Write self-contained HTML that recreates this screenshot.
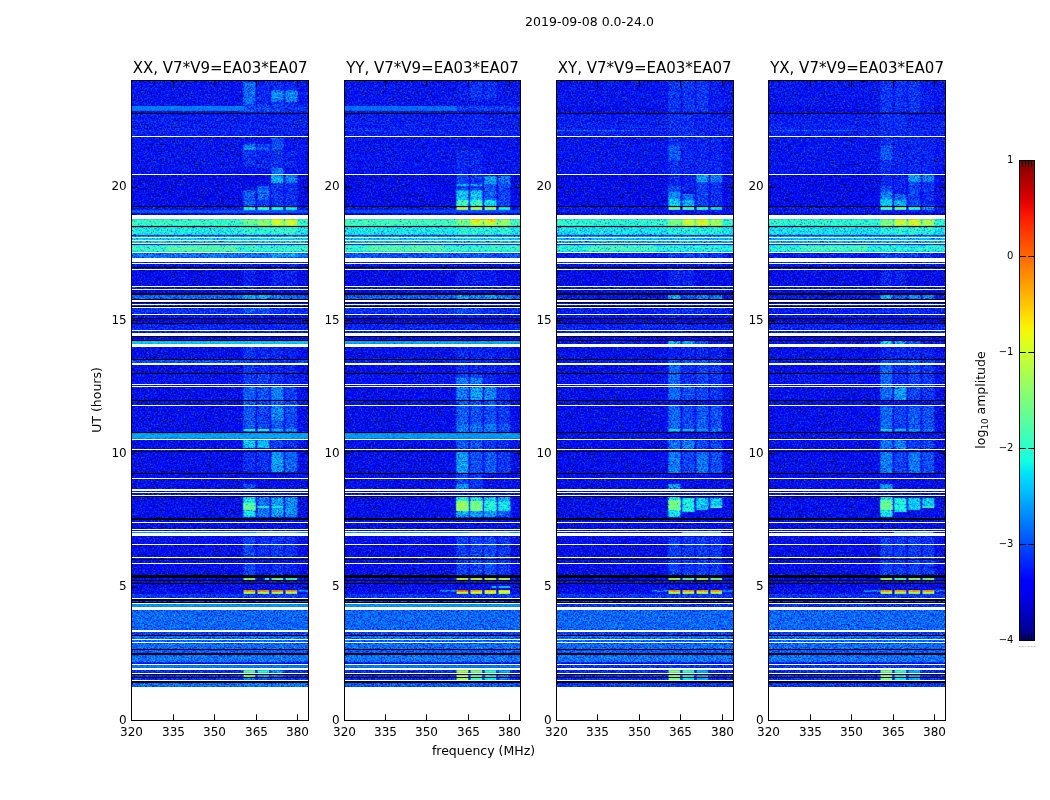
<!DOCTYPE html>
<html><head><meta charset="utf-8"><title>2019-09-08 0.0-24.0</title>
<style>
html,body{margin:0;padding:0;background:#fff;width:1050px;height:800px;overflow:hidden}
svg text{font-family:"DejaVu Sans","Liberation Sans",sans-serif;fill:#000}
.tk{font-size:12px}.tt{font-size:15px}.lb{font-size:12.5px}.ct{font-size:10px}
</style></head><body>
<svg width="1050" height="800" viewBox="0 0 1050 800" style="display:block;position:absolute;left:0;top:0">
<defs>
<filter id="jn" x="0" y="0" width="100%" height="100%" color-interpolation-filters="sRGB">
<feTurbulence type="fractalNoise" baseFrequency="0.7" numOctaves="2" seed="7" result="t"/>
<feColorMatrix in="t" type="matrix" values="1 0 0 0 0  1 0 0 0 0  1 0 0 0 0  0 0 0 0 1" result="g"/>
<feComponentTransfer in="g" result="n"><feFuncR type="table" tableValues="0.000 0.000 0.000 0.000 0.000 0.000 0.000 0.000 0.000 0.000 0.000 0.000 0.000 0.000 0.050 0.100 0.148 0.192 0.232 0.268 0.299 0.329 0.355 0.380 0.402 0.424 0.444 0.464 0.483 0.502 0.520 0.537 0.555 0.575 0.591 0.606 0.620 0.634 0.647 0.659 0.671 0.683 0.694 0.706 0.717 0.728 0.740 0.751 0.763 0.773 0.784 0.795 0.805 0.815 0.825 0.835 0.843 0.843 0.843 0.843 0.843 0.843 0.843 0.843 0.843"/><feFuncG type="table" tableValues="0.000 0.000 0.000 0.000 0.000 0.000 0.000 0.000 0.000 0.000 0.000 0.000 0.000 0.000 0.050 0.100 0.148 0.192 0.232 0.268 0.299 0.329 0.355 0.380 0.402 0.424 0.444 0.464 0.483 0.502 0.520 0.537 0.555 0.575 0.591 0.606 0.620 0.634 0.647 0.659 0.671 0.683 0.694 0.706 0.717 0.728 0.740 0.751 0.763 0.773 0.784 0.795 0.805 0.815 0.825 0.835 0.843 0.843 0.843 0.843 0.843 0.843 0.843 0.843 0.843"/><feFuncB type="table" tableValues="0.000 0.000 0.000 0.000 0.000 0.000 0.000 0.000 0.000 0.000 0.000 0.000 0.000 0.000 0.050 0.100 0.148 0.192 0.232 0.268 0.299 0.329 0.355 0.380 0.402 0.424 0.444 0.464 0.483 0.502 0.520 0.537 0.555 0.575 0.591 0.606 0.620 0.634 0.647 0.659 0.671 0.683 0.694 0.706 0.717 0.728 0.740 0.751 0.763 0.773 0.784 0.795 0.805 0.815 0.825 0.835 0.843 0.843 0.843 0.843 0.843 0.843 0.843 0.843 0.843"/></feComponentTransfer>
<feComposite in="SourceGraphic" in2="n" operator="arithmetic" k1="0" k2="1" k3="0.4050" k4="-0.2250" result="s"/>
<feComponentTransfer in="s" result="c"><feFuncR type="table" tableValues="0.000 0.000 0.000 0.000 0.000 0.000 0.000 0.000 0.000 0.000 0.000 0.000 0.000 0.000 0.000 0.000 0.000 0.000 0.000 0.000 0.000 0.000 0.000 0.000 0.000 0.000 0.000 0.000 0.000 0.000 0.000 0.000 0.000 0.000 0.000 0.000 0.000 0.000 0.000 0.000 0.000 0.000 0.000 0.000 0.000 0.000 0.011 0.044 0.077 0.109 0.142 0.174 0.207 0.239 0.272 0.305 0.337 0.370 0.402 0.435 0.468 0.500 0.533 0.565 0.598 0.630 0.663 0.696 0.728 0.761 0.793 0.826 0.859 0.891 0.924 0.956 0.989 1.000 1.000 1.000 1.000 1.000 1.000 1.000 1.000 1.000 1.000 1.000 1.000 1.000 1.000 1.000 1.000 1.000 1.000 1.000 1.000 1.000 1.000 1.000 0.959 0.913 0.867 0.821 0.775 0.730 0.684 0.638 0.592 0.546 0.500"/><feFuncG type="table" tableValues="0.000 0.000 0.000 0.000 0.000 0.000 0.000 0.000 0.000 0.000 0.000 0.000 0.000 0.000 0.000 0.000 0.000 0.000 0.000 0.000 0.000 0.000 0.000 0.000 0.025 0.066 0.106 0.146 0.187 0.227 0.268 0.308 0.348 0.389 0.429 0.470 0.510 0.551 0.591 0.631 0.672 0.712 0.753 0.793 0.833 0.874 0.914 0.955 0.995 1.000 1.000 1.000 1.000 1.000 1.000 1.000 1.000 1.000 1.000 1.000 1.000 1.000 1.000 1.000 1.000 1.000 1.000 1.000 1.000 1.000 1.000 1.000 1.000 1.000 1.000 0.976 0.939 0.901 0.864 0.826 0.789 0.752 0.714 0.677 0.639 0.602 0.565 0.527 0.490 0.452 0.415 0.377 0.340 0.303 0.265 0.228 0.190 0.153 0.116 0.078 0.041 0.003 0.000 0.000 0.000 0.000 0.000 0.000 0.000 0.000 0.000"/><feFuncB type="table" tableValues="0.000 0.000 0.000 0.000 0.000 0.000 0.000 0.000 0.000 0.000 0.000 0.500 0.546 0.592 0.638 0.684 0.730 0.775 0.821 0.867 0.913 0.959 1.000 1.000 1.000 1.000 1.000 1.000 1.000 1.000 1.000 1.000 1.000 1.000 1.000 1.000 1.000 1.000 1.000 1.000 1.000 1.000 1.000 1.000 1.000 0.989 0.956 0.924 0.891 0.859 0.826 0.793 0.761 0.728 0.696 0.663 0.630 0.598 0.565 0.533 0.500 0.468 0.435 0.402 0.370 0.337 0.305 0.272 0.239 0.207 0.174 0.142 0.109 0.077 0.044 0.011 0.000 0.000 0.000 0.000 0.000 0.000 0.000 0.000 0.000 0.000 0.000 0.000 0.000 0.000 0.000 0.000 0.000 0.000 0.000 0.000 0.000 0.000 0.000 0.000 0.000 0.000 0.000 0.000 0.000 0.000 0.000 0.000 0.000 0.000 0.000"/></feComponentTransfer>
<feConvolveMatrix in="c" order="3" kernelMatrix="0.02 0.08 0.02 0.08 0.6 0.08 0.02 0.08 0.02" divisor="1" edgeMode="duplicate" preserveAlpha="true" result="b"/>
<feComposite in="b" in2="SourceGraphic" operator="in"/>
</filter>
<filter id="jl" x="0" y="0" width="100%" height="100%" color-interpolation-filters="sRGB">
<feTurbulence type="fractalNoise" baseFrequency="0.7" numOctaves="2" seed="11" result="t"/>
<feColorMatrix in="t" type="matrix" values="1 0 0 0 0  1 0 0 0 0  1 0 0 0 0  0 0 0 0 1" result="g"/>
<feComponentTransfer in="g" result="n"><feFuncR type="table" tableValues="0.000 0.000 0.000 0.000 0.000 0.000 0.000 0.000 0.000 0.000 0.000 0.000 0.000 0.000 0.050 0.100 0.148 0.192 0.232 0.268 0.299 0.329 0.355 0.380 0.402 0.424 0.444 0.464 0.483 0.502 0.520 0.537 0.555 0.575 0.591 0.606 0.620 0.634 0.647 0.659 0.671 0.683 0.694 0.706 0.717 0.728 0.740 0.751 0.763 0.773 0.784 0.795 0.805 0.815 0.825 0.835 0.843 0.843 0.843 0.843 0.843 0.843 0.843 0.843 0.843"/><feFuncG type="table" tableValues="0.000 0.000 0.000 0.000 0.000 0.000 0.000 0.000 0.000 0.000 0.000 0.000 0.000 0.000 0.050 0.100 0.148 0.192 0.232 0.268 0.299 0.329 0.355 0.380 0.402 0.424 0.444 0.464 0.483 0.502 0.520 0.537 0.555 0.575 0.591 0.606 0.620 0.634 0.647 0.659 0.671 0.683 0.694 0.706 0.717 0.728 0.740 0.751 0.763 0.773 0.784 0.795 0.805 0.815 0.825 0.835 0.843 0.843 0.843 0.843 0.843 0.843 0.843 0.843 0.843"/><feFuncB type="table" tableValues="0.000 0.000 0.000 0.000 0.000 0.000 0.000 0.000 0.000 0.000 0.000 0.000 0.000 0.000 0.050 0.100 0.148 0.192 0.232 0.268 0.299 0.329 0.355 0.380 0.402 0.424 0.444 0.464 0.483 0.502 0.520 0.537 0.555 0.575 0.591 0.606 0.620 0.634 0.647 0.659 0.671 0.683 0.694 0.706 0.717 0.728 0.740 0.751 0.763 0.773 0.784 0.795 0.805 0.815 0.825 0.835 0.843 0.843 0.843 0.843 0.843 0.843 0.843 0.843 0.843"/></feComponentTransfer>
<feComposite in="SourceGraphic" in2="n" operator="arithmetic" k1="0" k2="1" k3="0.1418" k4="-0.0788" result="s"/>
<feComponentTransfer in="s" result="c"><feFuncR type="table" tableValues="0.000 0.000 0.000 0.000 0.000 0.000 0.000 0.000 0.000 0.000 0.000 0.000 0.000 0.000 0.000 0.000 0.000 0.000 0.000 0.000 0.000 0.000 0.000 0.000 0.000 0.000 0.000 0.000 0.000 0.000 0.000 0.000 0.000 0.000 0.000 0.000 0.000 0.000 0.000 0.000 0.000 0.000 0.000 0.000 0.000 0.000 0.011 0.044 0.077 0.109 0.142 0.174 0.207 0.239 0.272 0.305 0.337 0.370 0.402 0.435 0.468 0.500 0.533 0.565 0.598 0.630 0.663 0.696 0.728 0.761 0.793 0.826 0.859 0.891 0.924 0.956 0.989 1.000 1.000 1.000 1.000 1.000 1.000 1.000 1.000 1.000 1.000 1.000 1.000 1.000 1.000 1.000 1.000 1.000 1.000 1.000 1.000 1.000 1.000 1.000 0.959 0.913 0.867 0.821 0.775 0.730 0.684 0.638 0.592 0.546 0.500"/><feFuncG type="table" tableValues="0.000 0.000 0.000 0.000 0.000 0.000 0.000 0.000 0.000 0.000 0.000 0.000 0.000 0.000 0.000 0.000 0.000 0.000 0.000 0.000 0.000 0.000 0.000 0.000 0.025 0.066 0.106 0.146 0.187 0.227 0.268 0.308 0.348 0.389 0.429 0.470 0.510 0.551 0.591 0.631 0.672 0.712 0.753 0.793 0.833 0.874 0.914 0.955 0.995 1.000 1.000 1.000 1.000 1.000 1.000 1.000 1.000 1.000 1.000 1.000 1.000 1.000 1.000 1.000 1.000 1.000 1.000 1.000 1.000 1.000 1.000 1.000 1.000 1.000 1.000 0.976 0.939 0.901 0.864 0.826 0.789 0.752 0.714 0.677 0.639 0.602 0.565 0.527 0.490 0.452 0.415 0.377 0.340 0.303 0.265 0.228 0.190 0.153 0.116 0.078 0.041 0.003 0.000 0.000 0.000 0.000 0.000 0.000 0.000 0.000 0.000"/><feFuncB type="table" tableValues="0.000 0.000 0.000 0.000 0.000 0.000 0.000 0.000 0.000 0.000 0.000 0.500 0.546 0.592 0.638 0.684 0.730 0.775 0.821 0.867 0.913 0.959 1.000 1.000 1.000 1.000 1.000 1.000 1.000 1.000 1.000 1.000 1.000 1.000 1.000 1.000 1.000 1.000 1.000 1.000 1.000 1.000 1.000 1.000 1.000 0.989 0.956 0.924 0.891 0.859 0.826 0.793 0.761 0.728 0.696 0.663 0.630 0.598 0.565 0.533 0.500 0.468 0.435 0.402 0.370 0.337 0.305 0.272 0.239 0.207 0.174 0.142 0.109 0.077 0.044 0.011 0.000 0.000 0.000 0.000 0.000 0.000 0.000 0.000 0.000 0.000 0.000 0.000 0.000 0.000 0.000 0.000 0.000 0.000 0.000 0.000 0.000 0.000 0.000 0.000 0.000 0.000 0.000 0.000 0.000 0.000 0.000 0.000 0.000 0.000 0.000"/></feComponentTransfer>
<feConvolveMatrix in="c" order="3" kernelMatrix="0.02 0.08 0.02 0.08 0.6 0.08 0.02 0.08 0.02" divisor="1" edgeMode="duplicate" preserveAlpha="true" result="b"/>
<feComposite in="b" in2="SourceGraphic" operator="in"/>
</filter>
<linearGradient id="cb" x1="0" y1="0" x2="0" y2="1"><stop offset="0.000" stop-color="#800000"/><stop offset="0.025" stop-color="#9c0000"/><stop offset="0.050" stop-color="#b90000"/><stop offset="0.075" stop-color="#d60000"/><stop offset="0.100" stop-color="#f30900"/><stop offset="0.125" stop-color="#ff2100"/><stop offset="0.150" stop-color="#ff3900"/><stop offset="0.175" stop-color="#ff5000"/><stop offset="0.200" stop-color="#ff6800"/><stop offset="0.225" stop-color="#ff8000"/><stop offset="0.250" stop-color="#ff9700"/><stop offset="0.275" stop-color="#ffaf00"/><stop offset="0.300" stop-color="#ffc600"/><stop offset="0.325" stop-color="#ffde00"/><stop offset="0.350" stop-color="#f7f600"/><stop offset="0.375" stop-color="#e2ff15"/><stop offset="0.400" stop-color="#ceff29"/><stop offset="0.425" stop-color="#b9ff3e"/><stop offset="0.450" stop-color="#a5ff52"/><stop offset="0.475" stop-color="#90ff67"/><stop offset="0.500" stop-color="#7bff7b"/><stop offset="0.525" stop-color="#67ff90"/><stop offset="0.550" stop-color="#52ffa5"/><stop offset="0.575" stop-color="#3effb9"/><stop offset="0.600" stop-color="#29ffce"/><stop offset="0.625" stop-color="#15ffe2"/><stop offset="0.650" stop-color="#00e5f7"/><stop offset="0.675" stop-color="#00ccff"/><stop offset="0.700" stop-color="#00b3ff"/><stop offset="0.725" stop-color="#0099ff"/><stop offset="0.750" stop-color="#0080ff"/><stop offset="0.775" stop-color="#0066ff"/><stop offset="0.800" stop-color="#004cff"/><stop offset="0.825" stop-color="#0033ff"/><stop offset="0.850" stop-color="#001aff"/><stop offset="0.875" stop-color="#0000ff"/><stop offset="0.900" stop-color="#0000f3"/><stop offset="0.925" stop-color="#0000d6"/><stop offset="0.950" stop-color="#0000b9"/><stop offset="0.975" stop-color="#00009c"/><stop offset="1.000" stop-color="#000080"/></linearGradient>
</defs>
<g filter="url(#jn)"><rect x="131.5" y="80" width="177" height="640" fill="#363636"/><rect x="131.5" y="80" width="177" height="26" fill="#383838"/><rect x="131.5" y="114" width="177" height="22" fill="#3b3b3b"/><rect x="131.5" y="137" width="177" height="37" fill="#383838"/><rect x="131.5" y="175" width="177" height="31" fill="#353535"/><rect x="131.5" y="207" width="177" height="3" fill="#393939"/><rect x="131.5" y="213" width="177" height="2" fill="#323232"/><rect x="131.5" y="235" width="177" height="1" fill="#2d2d2d"/><rect x="131.5" y="236" width="177" height="1" fill="#656565"/><rect x="131.5" y="244" width="177" height="1" fill="#323232"/><rect x="131.5" y="262" width="177" height="1" fill="#404040"/><rect x="131.5" y="264" width="177" height="2" fill="#393939"/><rect x="131.5" y="270" width="177" height="16" fill="#353535"/><rect x="131.5" y="287" width="177" height="2" fill="#393939"/><rect x="131.5" y="290" width="177" height="2" fill="#343434"/><rect x="131.5" y="305" width="177" height="1" fill="#404040"/><rect x="131.5" y="315" width="177" height="3" fill="#393939"/><rect x="131.5" y="319" width="177" height="3" fill="#323232"/><rect x="131.5" y="324" width="177" height="6" fill="#3d3d3d"/><rect x="131.5" y="331" width="177" height="2" fill="#3b3b3b"/><rect x="131.5" y="337" width="177" height="3" fill="#343434"/><rect x="131.5" y="347" width="177" height="12" fill="#363636"/><rect x="131.5" y="365" width="177" height="8" fill="#363636"/><rect x="131.5" y="374" width="177" height="10" fill="#383838"/><rect x="131.5" y="594" width="177" height="4" fill="#424242"/><rect x="131.5" y="601" width="177" height="1" fill="#454545"/><rect x="131.5" y="610" width="177" height="20" fill="#4e4e4e"/><rect x="131.5" y="632" width="177" height="3" fill="#454545"/><rect x="131.5" y="636" width="177" height="3" fill="#515151"/><rect x="131.5" y="640" width="177" height="2" fill="#515151"/><rect x="131.5" y="643" width="177" height="6" fill="#4f4f4f"/><rect x="131.5" y="650" width="177" height="3" fill="#4c4c4c"/><rect x="131.5" y="655" width="177" height="7" fill="#515151"/><rect x="131.5" y="662" width="177" height="1" fill="#3b3b3b"/><rect x="131.5" y="670" width="177" height="3" fill="#404040"/><rect x="131.5" y="675" width="177" height="2" fill="#414141"/><rect x="131.5" y="678" width="177" height="2" fill="#424242"/><rect x="244.5" y="106" width="64" height="5" fill="#424242"/><rect x="131.5" y="130" width="177" height="1" fill="#424242"/><rect x="131.5" y="219" width="177" height="7" fill="#797979"/><rect x="131.5" y="227" width="177" height="8" fill="#6f6f6f"/><rect x="131.5" y="238" width="177" height="2" fill="#6c6c6c"/><rect x="131.5" y="241" width="177" height="2" fill="#686868"/><rect x="131.5" y="245" width="177" height="7" fill="#787878"/><rect x="166.5" y="245" width="70" height="7" fill="#828282"/><rect x="131.5" y="253" width="177" height="5" fill="#515151"/><rect x="131.5" y="295" width="177" height="4" fill="#4e4e4e"/><rect x="131.5" y="308" width="177" height="6" fill="#404040"/><rect x="131.5" y="360" width="177" height="3" fill="#484848"/><rect x="131.5" y="683" width="177" height="4" fill="#515151"/><rect x="243.3" y="82" width="12.2" height="22" fill="#4f4f4f"/><rect x="257.3" y="82" width="12.2" height="22" fill="#3e3e3e"/><rect x="271.3" y="82" width="12.2" height="22" fill="#404040"/><rect x="285.3" y="82" width="12" height="22" fill="#3d3d3d"/><rect x="243.3" y="104" width="12.2" height="8" fill="#484848"/><rect x="257.3" y="104" width="12.2" height="8" fill="#454545"/><rect x="271.3" y="104" width="12.2" height="8" fill="#454545"/><rect x="285.3" y="104" width="12" height="8" fill="#404040"/><rect x="271.3" y="90" width="12.2" height="12" fill="#525252"/><rect x="285.3" y="90" width="12" height="12" fill="#525252"/><rect x="271.3" y="93" width="12.2" height="1" fill="#5e5e5e"/><rect x="285.3" y="93" width="12" height="1" fill="#5e5e5e"/><rect x="271.3" y="97" width="12.2" height="1" fill="#5e5e5e"/><rect x="285.3" y="97" width="12" height="1" fill="#5e5e5e"/><rect x="243.3" y="114" width="12.2" height="22" fill="#3d3d3d"/><rect x="257.3" y="114" width="12.2" height="22" fill="#3b3b3b"/><rect x="271.3" y="114" width="12.2" height="22" fill="#3c3c3c"/><rect x="285.3" y="114" width="12" height="22" fill="#3c3c3c"/><rect x="271.3" y="138" width="12.2" height="12" fill="#484848"/><rect x="243.3" y="144" width="12.2" height="14" fill="#515151"/><rect x="257.3" y="144" width="12.2" height="14" fill="#454545"/><rect x="243.3" y="147" width="12.2" height="6" fill="#5a5a5a"/><rect x="257.3" y="147" width="12.2" height="6" fill="#4b4b4b"/><rect x="243.3" y="150" width="12.2" height="18" fill="#404040"/><rect x="257.3" y="150" width="12.2" height="18" fill="#3d3d3d"/><rect x="271.3" y="150" width="12.2" height="18" fill="#404040"/><rect x="285.3" y="150" width="12" height="18" fill="#3c3c3c"/><rect x="271.3" y="168" width="12.2" height="6" fill="#515151"/><rect x="271.3" y="175" width="12.2" height="8" fill="#5e5e5e"/><rect x="285.3" y="175" width="12" height="8" fill="#535353"/><rect x="271.3" y="183" width="12.2" height="23" fill="#424242"/><rect x="285.3" y="183" width="12" height="23" fill="#404040"/><rect x="243.3" y="190" width="12.2" height="16" fill="#4b4b4b"/><rect x="257.3" y="186" width="12.2" height="14" fill="#4e4e4e"/><rect x="257.3" y="200" width="12.2" height="6" fill="#424242"/><rect x="243.3" y="219" width="12.2" height="7" fill="#888888"/><rect x="257.3" y="219" width="12.2" height="7" fill="#939393"/><rect x="271.3" y="219" width="12.2" height="7" fill="#a3a3a3"/><rect x="285.3" y="219" width="12" height="7" fill="#a3a3a3"/><rect x="243.3" y="227" width="12.2" height="8" fill="#757575"/><rect x="257.3" y="227" width="12.2" height="8" fill="#757575"/><rect x="271.3" y="227" width="12.2" height="8" fill="#787878"/><rect x="285.3" y="227" width="12" height="8" fill="#787878"/><rect x="271.3" y="253" width="12.2" height="5" fill="#5a5a5a"/><rect x="285.3" y="253" width="12" height="5" fill="#5a5a5a"/><rect x="243.3" y="262" width="12.2" height="24" fill="#3c3c3c"/><rect x="271.3" y="262" width="12.2" height="24" fill="#3c3c3c"/><rect x="285.3" y="262" width="12" height="24" fill="#3b3b3b"/><rect x="243.3" y="295" width="12.2" height="4" fill="#5e5e5e"/><rect x="257.3" y="295" width="12.2" height="4" fill="#5e5e5e"/><rect x="271.3" y="295" width="12.2" height="4" fill="#535353"/><rect x="243.3" y="308" width="12.2" height="6" fill="#4b4b4b"/><rect x="257.3" y="308" width="12.2" height="6" fill="#484848"/><rect x="271.3" y="308" width="12.2" height="6" fill="#424242"/><rect x="243.5" y="341" width="26" height="3" fill="#818181"/><rect x="243.3" y="347" width="12.2" height="12" fill="#424242"/><rect x="257.3" y="347" width="12.2" height="12" fill="#3e3e3e"/><rect x="271.3" y="347" width="12.2" height="12" fill="#3e3e3e"/><rect x="285.3" y="347" width="12" height="12" fill="#3b3b3b"/><rect x="243.3" y="360" width="12.2" height="13" fill="#424242"/><rect x="257.3" y="360" width="12.2" height="13" fill="#3e3e3e"/><rect x="271.3" y="360" width="12.2" height="13" fill="#3e3e3e"/><rect x="285.3" y="360" width="12" height="13" fill="#3c3c3c"/><rect x="243.3" y="374" width="12.2" height="10" fill="#444444"/><rect x="257.3" y="374" width="12.2" height="10" fill="#444444"/><rect x="271.3" y="374" width="12.2" height="10" fill="#414141"/><rect x="285.3" y="374" width="12" height="10" fill="#3d3d3d"/><rect x="243.3" y="387" width="12.2" height="13" fill="#4c4c4c"/><rect x="257.3" y="387" width="12.2" height="13" fill="#4a4a4a"/><rect x="271.3" y="387" width="12.2" height="13" fill="#545454"/><rect x="285.3" y="387" width="12" height="13" fill="#444444"/><rect x="243.3" y="401" width="12.2" height="31" fill="#4a4a4a"/><rect x="257.3" y="401" width="12.2" height="31" fill="#454545"/><rect x="271.3" y="401" width="12.2" height="31" fill="#4b4b4b"/><rect x="285.3" y="401" width="12" height="31" fill="#474747"/><rect x="271.3" y="406" width="12.2" height="14" fill="#555555"/><rect x="285.3" y="429" width="12" height="2" fill="#5a5a5a"/><rect x="243.3" y="440" width="12.2" height="8" fill="#636363"/><rect x="257.3" y="440" width="12.2" height="8" fill="#636363"/><rect x="271.3" y="440" width="12.2" height="8" fill="#454545"/><rect x="285.3" y="440" width="12" height="8" fill="#424242"/><rect x="243.3" y="452" width="12.2" height="20" fill="#404040"/><rect x="257.3" y="452" width="12.2" height="20" fill="#404040"/><rect x="271.3" y="452" width="12.2" height="20" fill="#5a5a5a"/><rect x="285.3" y="452" width="12" height="20" fill="#4e4e4e"/><rect x="243.3" y="484" width="12.2" height="5" fill="#484848"/><rect x="243.3" y="497" width="12.2" height="20" fill="#6c6c6c"/><rect x="257.3" y="497" width="12.2" height="20" fill="#515151"/><rect x="271.3" y="497" width="12.2" height="20" fill="#5a5a5a"/><rect x="285.3" y="497" width="12" height="20" fill="#575757"/><rect x="243.3" y="503" width="12.2" height="7" fill="#858585"/><rect x="243.3" y="537" width="12.2" height="20" fill="#454545"/><rect x="257.3" y="537" width="12.2" height="20" fill="#404040"/><rect x="271.3" y="537" width="12.2" height="20" fill="#424242"/><rect x="285.3" y="537" width="12" height="20" fill="#404040"/><rect x="243.3" y="564" width="12.2" height="11" fill="#454545"/><rect x="257.3" y="564" width="12.2" height="11" fill="#3d3d3d"/><rect x="271.3" y="564" width="12.2" height="11" fill="#404040"/><rect x="285.3" y="564" width="12" height="11" fill="#3d3d3d"/><rect x="297.5" y="590" width="11" height="2" fill="#535353"/><rect x="271.3" y="670" width="12.2" height="3" fill="#575757"/><rect x="271.3" y="675" width="12.2" height="2" fill="#535353"/><rect x="243.3" y="678" width="12.2" height="2" fill="#575757"/><rect x="257.3" y="678" width="12.2" height="2" fill="#4b4b4b"/><rect x="271.3" y="678" width="12.2" height="2" fill="#4b4b4b"/><rect x="344.5" y="80" width="176" height="640" fill="#363636"/><rect x="344.5" y="80" width="176" height="26" fill="#383838"/><rect x="344.5" y="114" width="176" height="22" fill="#3b3b3b"/><rect x="344.5" y="137" width="176" height="37" fill="#383838"/><rect x="344.5" y="175" width="176" height="31" fill="#353535"/><rect x="344.5" y="207" width="176" height="3" fill="#393939"/><rect x="344.5" y="213" width="176" height="2" fill="#323232"/><rect x="344.5" y="235" width="176" height="1" fill="#2d2d2d"/><rect x="344.5" y="236" width="176" height="1" fill="#656565"/><rect x="344.5" y="244" width="176" height="1" fill="#323232"/><rect x="344.5" y="262" width="176" height="1" fill="#404040"/><rect x="344.5" y="264" width="176" height="2" fill="#393939"/><rect x="344.5" y="270" width="176" height="16" fill="#353535"/><rect x="344.5" y="287" width="176" height="2" fill="#393939"/><rect x="344.5" y="290" width="176" height="2" fill="#343434"/><rect x="344.5" y="305" width="176" height="1" fill="#404040"/><rect x="344.5" y="315" width="176" height="3" fill="#393939"/><rect x="344.5" y="319" width="176" height="3" fill="#323232"/><rect x="344.5" y="324" width="176" height="6" fill="#3d3d3d"/><rect x="344.5" y="331" width="176" height="2" fill="#3b3b3b"/><rect x="344.5" y="337" width="176" height="3" fill="#343434"/><rect x="344.5" y="347" width="176" height="12" fill="#363636"/><rect x="344.5" y="365" width="176" height="8" fill="#363636"/><rect x="344.5" y="374" width="176" height="10" fill="#383838"/><rect x="344.5" y="594" width="176" height="4" fill="#424242"/><rect x="344.5" y="601" width="176" height="1" fill="#454545"/><rect x="344.5" y="610" width="176" height="20" fill="#4e4e4e"/><rect x="344.5" y="632" width="176" height="3" fill="#454545"/><rect x="344.5" y="636" width="176" height="3" fill="#515151"/><rect x="344.5" y="640" width="176" height="2" fill="#515151"/><rect x="344.5" y="643" width="176" height="6" fill="#4f4f4f"/><rect x="344.5" y="650" width="176" height="3" fill="#4c4c4c"/><rect x="344.5" y="655" width="176" height="7" fill="#515151"/><rect x="344.5" y="662" width="176" height="1" fill="#3b3b3b"/><rect x="344.5" y="670" width="176" height="3" fill="#404040"/><rect x="344.5" y="675" width="176" height="2" fill="#414141"/><rect x="344.5" y="678" width="176" height="2" fill="#424242"/><rect x="457.5" y="106" width="63" height="5" fill="#424242"/><rect x="344.5" y="130" width="176" height="1" fill="#454545"/><rect x="344.5" y="219" width="176" height="7" fill="#7c7c7c"/><rect x="344.5" y="227" width="176" height="8" fill="#6d6d6d"/><rect x="344.5" y="238" width="176" height="2" fill="#6a6a6a"/><rect x="344.5" y="241" width="176" height="2" fill="#656565"/><rect x="344.5" y="245" width="176" height="7" fill="#787878"/><rect x="369.5" y="245" width="75" height="7" fill="#818181"/><rect x="344.5" y="253" width="176" height="5" fill="#4a4a4a"/><rect x="344.5" y="295" width="176" height="4" fill="#4c4c4c"/><rect x="344.5" y="308" width="176" height="6" fill="#404040"/><rect x="344.5" y="360" width="176" height="3" fill="#3b3b3b"/><rect x="344.5" y="683" width="176" height="4" fill="#4b4b4b"/><rect x="456.3" y="82" width="12.2" height="18" fill="#3b3b3b"/><rect x="470.3" y="82" width="12.2" height="18" fill="#414141"/><rect x="484.3" y="82" width="12.2" height="18" fill="#404040"/><rect x="456.3" y="106" width="12.2" height="5" fill="#454545"/><rect x="470.3" y="106" width="12.2" height="5" fill="#454545"/><rect x="484.3" y="106" width="12.2" height="5" fill="#454545"/><rect x="498.3" y="106" width="12" height="5" fill="#424242"/><rect x="470.3" y="114" width="12.2" height="22" fill="#3e3e3e"/><rect x="456.3" y="150" width="12.2" height="24" fill="#3e3e3e"/><rect x="470.3" y="150" width="12.2" height="24" fill="#3e3e3e"/><rect x="456.3" y="175" width="12.2" height="15" fill="#454545"/><rect x="470.3" y="175" width="12.2" height="15" fill="#424242"/><rect x="484.3" y="176" width="12.2" height="8" fill="#5a5a5a"/><rect x="498.3" y="176" width="12" height="8" fill="#515151"/><rect x="484.3" y="184" width="12.2" height="16" fill="#4b4b4b"/><rect x="498.3" y="184" width="12" height="16" fill="#454545"/><rect x="484.3" y="200" width="12.2" height="6" fill="#6c6c6c"/><rect x="498.3" y="200" width="12" height="6" fill="#454545"/><rect x="456.3" y="190" width="12.2" height="10" fill="#636363"/><rect x="470.3" y="190" width="12.2" height="10" fill="#636363"/><rect x="456.3" y="184" width="12.2" height="2" fill="#5e5e5e"/><rect x="470.3" y="184" width="12.2" height="2" fill="#5e5e5e"/><rect x="456.3" y="200" width="12.2" height="6" fill="#7c7c7c"/><rect x="470.3" y="200" width="12.2" height="6" fill="#7c7c7c"/><rect x="456.3" y="219" width="12.2" height="7" fill="#8c8c8c"/><rect x="470.3" y="219" width="12.2" height="7" fill="#9f9f9f"/><rect x="484.3" y="219" width="12.2" height="7" fill="#9f9f9f"/><rect x="498.3" y="219" width="12" height="7" fill="#939393"/><rect x="470.3" y="219" width="12.2" height="3" fill="#b1b1b1"/><rect x="484.3" y="219" width="12.2" height="3" fill="#b1b1b1"/><rect x="456.3" y="227" width="12.2" height="8" fill="#757575"/><rect x="470.3" y="227" width="12.2" height="8" fill="#757575"/><rect x="484.3" y="227" width="12.2" height="8" fill="#757575"/><rect x="498.3" y="227" width="12" height="8" fill="#757575"/><rect x="456.3" y="270" width="12.2" height="16" fill="#3b3b3b"/><rect x="470.3" y="270" width="12.2" height="16" fill="#3b3b3b"/><rect x="484.3" y="270" width="12.2" height="16" fill="#3a3a3a"/><rect x="456.3" y="295" width="12.2" height="4" fill="#5e5e5e"/><rect x="470.3" y="295" width="12.2" height="4" fill="#555555"/><rect x="484.3" y="295" width="12.2" height="4" fill="#5a5a5a"/><rect x="498.3" y="295" width="12" height="4" fill="#535353"/><rect x="456.3" y="308" width="12.2" height="6" fill="#484848"/><rect x="470.3" y="308" width="12.2" height="6" fill="#454545"/><rect x="484.3" y="308" width="12.2" height="6" fill="#404040"/><rect x="498.3" y="308" width="12" height="6" fill="#3d3d3d"/><rect x="456.3" y="341" width="12.2" height="3" fill="#6c6c6c"/><rect x="470.3" y="341" width="12.2" height="3" fill="#6c6c6c"/><rect x="484.3" y="341" width="12.2" height="3" fill="#6c6c6c"/><rect x="456.3" y="347" width="12.2" height="26" fill="#3e3e3e"/><rect x="470.3" y="347" width="12.2" height="26" fill="#3d3d3d"/><rect x="484.3" y="347" width="12.2" height="26" fill="#3d3d3d"/><rect x="498.3" y="347" width="12" height="26" fill="#3b3b3b"/><rect x="456.3" y="374" width="12.2" height="10" fill="#454545"/><rect x="470.3" y="374" width="12.2" height="10" fill="#454545"/><rect x="484.3" y="374" width="12.2" height="10" fill="#3d3d3d"/><rect x="456.3" y="378" width="12.2" height="6" fill="#555555"/><rect x="470.3" y="378" width="12.2" height="6" fill="#535353"/><rect x="456.3" y="387" width="12.2" height="13" fill="#535353"/><rect x="470.3" y="387" width="12.2" height="13" fill="#5c5c5c"/><rect x="484.3" y="387" width="12.2" height="13" fill="#555555"/><rect x="498.3" y="387" width="12" height="13" fill="#404040"/><rect x="456.3" y="401" width="12.2" height="31" fill="#4b4b4b"/><rect x="470.3" y="401" width="12.2" height="31" fill="#484848"/><rect x="484.3" y="401" width="12.2" height="31" fill="#484848"/><rect x="498.3" y="401" width="12" height="31" fill="#424242"/><rect x="456.3" y="424" width="12.2" height="8" fill="#535353"/><rect x="470.3" y="424" width="12.2" height="8" fill="#515151"/><rect x="484.3" y="424" width="12.2" height="8" fill="#515151"/><rect x="498.3" y="424" width="12" height="8" fill="#484848"/><rect x="456.3" y="440" width="12.2" height="9" fill="#4b4b4b"/><rect x="470.3" y="440" width="12.2" height="9" fill="#4b4b4b"/><rect x="484.3" y="440" width="12.2" height="9" fill="#424242"/><rect x="498.3" y="440" width="12" height="9" fill="#404040"/><rect x="456.3" y="452" width="12.2" height="21" fill="#5a5a5a"/><rect x="470.3" y="452" width="12.2" height="21" fill="#484848"/><rect x="484.3" y="452" width="12.2" height="21" fill="#4b4b4b"/><rect x="498.3" y="452" width="12" height="21" fill="#424242"/><rect x="456.3" y="474" width="12.2" height="15" fill="#454545"/><rect x="470.3" y="474" width="12.2" height="15" fill="#424242"/><rect x="456.3" y="484" width="12.2" height="5" fill="#575757"/><rect x="456.3" y="497" width="12.2" height="20" fill="#717171"/><rect x="470.3" y="497" width="12.2" height="20" fill="#6c6c6c"/><rect x="484.3" y="497" width="12.2" height="20" fill="#656565"/><rect x="498.3" y="497" width="12" height="20" fill="#5e5e5e"/><rect x="456.3" y="501" width="12.2" height="10" fill="#959595"/><rect x="470.3" y="501" width="12.2" height="10" fill="#8c8c8c"/><rect x="484.3" y="501" width="12.2" height="10" fill="#737373"/><rect x="498.3" y="501" width="12" height="10" fill="#6c6c6c"/><rect x="456.3" y="511" width="12.2" height="6" fill="#5e5e5e"/><rect x="470.3" y="511" width="12.2" height="6" fill="#5a5a5a"/><rect x="484.3" y="511" width="12.2" height="6" fill="#5a5a5a"/><rect x="498.3" y="511" width="12" height="6" fill="#4b4b4b"/><rect x="456.3" y="537" width="12.2" height="38" fill="#444444"/><rect x="470.3" y="537" width="12.2" height="38" fill="#454545"/><rect x="484.3" y="537" width="12.2" height="38" fill="#474747"/><rect x="498.3" y="537" width="12" height="38" fill="#424242"/><rect x="439.5" y="590" width="17" height="2" fill="#535353"/><rect x="498.3" y="675" width="12" height="5" fill="#535353"/><rect x="556.5" y="80" width="177" height="640" fill="#363636"/><rect x="556.5" y="80" width="177" height="26" fill="#383838"/><rect x="556.5" y="114" width="177" height="22" fill="#3b3b3b"/><rect x="556.5" y="137" width="177" height="37" fill="#383838"/><rect x="556.5" y="175" width="177" height="31" fill="#353535"/><rect x="556.5" y="207" width="177" height="3" fill="#393939"/><rect x="556.5" y="213" width="177" height="2" fill="#323232"/><rect x="556.5" y="235" width="177" height="1" fill="#2d2d2d"/><rect x="556.5" y="236" width="177" height="1" fill="#656565"/><rect x="556.5" y="244" width="177" height="1" fill="#323232"/><rect x="556.5" y="262" width="177" height="1" fill="#404040"/><rect x="556.5" y="264" width="177" height="2" fill="#393939"/><rect x="556.5" y="270" width="177" height="16" fill="#353535"/><rect x="556.5" y="287" width="177" height="2" fill="#393939"/><rect x="556.5" y="290" width="177" height="2" fill="#343434"/><rect x="556.5" y="305" width="177" height="1" fill="#404040"/><rect x="556.5" y="315" width="177" height="3" fill="#393939"/><rect x="556.5" y="319" width="177" height="3" fill="#323232"/><rect x="556.5" y="324" width="177" height="6" fill="#3d3d3d"/><rect x="556.5" y="331" width="177" height="2" fill="#3b3b3b"/><rect x="556.5" y="337" width="177" height="3" fill="#343434"/><rect x="556.5" y="347" width="177" height="12" fill="#363636"/><rect x="556.5" y="365" width="177" height="8" fill="#363636"/><rect x="556.5" y="374" width="177" height="10" fill="#383838"/><rect x="556.5" y="594" width="177" height="4" fill="#424242"/><rect x="556.5" y="601" width="177" height="1" fill="#454545"/><rect x="556.5" y="610" width="177" height="20" fill="#4e4e4e"/><rect x="556.5" y="632" width="177" height="3" fill="#454545"/><rect x="556.5" y="636" width="177" height="3" fill="#515151"/><rect x="556.5" y="640" width="177" height="2" fill="#515151"/><rect x="556.5" y="643" width="177" height="6" fill="#4f4f4f"/><rect x="556.5" y="650" width="177" height="3" fill="#4c4c4c"/><rect x="556.5" y="655" width="177" height="7" fill="#515151"/><rect x="556.5" y="662" width="177" height="1" fill="#3b3b3b"/><rect x="556.5" y="670" width="177" height="3" fill="#404040"/><rect x="556.5" y="675" width="177" height="2" fill="#414141"/><rect x="556.5" y="678" width="177" height="2" fill="#424242"/><rect x="556.5" y="130" width="80" height="1" fill="#515151"/><rect x="636.5" y="130" width="97" height="1" fill="#424242"/><rect x="556.5" y="127" width="177" height="1" fill="#3d3d3d"/><rect x="556.5" y="210" width="177" height="3" fill="#393939"/><rect x="556.5" y="219" width="177" height="7" fill="#767676"/><rect x="556.5" y="227" width="177" height="8" fill="#6b6b6b"/><rect x="556.5" y="238" width="177" height="2" fill="#656565"/><rect x="556.5" y="241" width="177" height="2" fill="#616161"/><rect x="556.5" y="245" width="177" height="7" fill="#737373"/><rect x="586.5" y="245" width="70" height="7" fill="#7c7c7c"/><rect x="556.5" y="253" width="177" height="5" fill="#3a3a3a"/><rect x="556.5" y="295" width="177" height="4" fill="#393939"/><rect x="556.5" y="308" width="177" height="6" fill="#3b3b3b"/><rect x="556.5" y="360" width="177" height="3" fill="#393939"/><rect x="556.5" y="341" width="177" height="3" fill="#393939"/><rect x="556.5" y="433" width="177" height="6" fill="#383838"/><rect x="556.5" y="532" width="177" height="1" fill="#393939"/><rect x="556.5" y="604" width="177" height="3" fill="#424242"/><rect x="556.5" y="665" width="177" height="3" fill="#424242"/><rect x="556.5" y="683" width="177" height="4" fill="#424242"/><rect x="668.3" y="80" width="12.2" height="32" fill="#424242"/><rect x="682.3" y="80" width="12.2" height="32" fill="#414141"/><rect x="696.3" y="80" width="12.2" height="32" fill="#424242"/><rect x="710.3" y="80" width="12" height="32" fill="#3b3b3b"/><rect x="668.3" y="114" width="12.2" height="22" fill="#404040"/><rect x="682.3" y="114" width="12.2" height="22" fill="#404040"/><rect x="696.3" y="114" width="12.2" height="22" fill="#3d3d3d"/><rect x="668.3" y="137" width="12.2" height="37" fill="#404040"/><rect x="682.3" y="137" width="12.2" height="37" fill="#3d3d3d"/><rect x="696.3" y="137" width="12.2" height="37" fill="#3e3e3e"/><rect x="710.3" y="137" width="12" height="37" fill="#3d3d3d"/><rect x="668.3" y="146" width="12.2" height="14" fill="#4b4b4b"/><rect x="696.3" y="175" width="12.2" height="7" fill="#5a5a5a"/><rect x="710.3" y="175" width="12" height="7" fill="#535353"/><rect x="696.3" y="182" width="12.2" height="24" fill="#454545"/><rect x="710.3" y="182" width="12" height="24" fill="#404040"/><rect x="668.3" y="175" width="12.2" height="11" fill="#3d3d3d"/><rect x="682.3" y="175" width="12.2" height="11" fill="#3c3c3c"/><rect x="668.3" y="186" width="12.2" height="6" fill="#484848"/><rect x="682.3" y="186" width="12.2" height="6" fill="#3d3d3d"/><rect x="668.3" y="192" width="12.2" height="7" fill="#555555"/><rect x="668.3" y="199" width="12.2" height="7" fill="#656565"/><rect x="682.3" y="194" width="12.2" height="6" fill="#4e4e4e"/><rect x="682.3" y="200" width="12.2" height="6" fill="#5e5e5e"/><rect x="668.3" y="219" width="12.2" height="7" fill="#8c8c8c"/><rect x="682.3" y="219" width="12.2" height="7" fill="#a3a3a3"/><rect x="696.3" y="219" width="12.2" height="7" fill="#a8a8a8"/><rect x="710.3" y="219" width="12" height="7" fill="#989898"/><rect x="668.3" y="227" width="12.2" height="8" fill="#737373"/><rect x="682.3" y="227" width="12.2" height="8" fill="#737373"/><rect x="696.3" y="227" width="12.2" height="8" fill="#737373"/><rect x="710.3" y="227" width="12" height="8" fill="#737373"/><rect x="668.3" y="253" width="12.2" height="5" fill="#454545"/><rect x="682.3" y="253" width="12.2" height="5" fill="#454545"/><rect x="696.3" y="253" width="12.2" height="5" fill="#454545"/><rect x="710.3" y="253" width="12" height="5" fill="#424242"/><rect x="668.3" y="270" width="12.2" height="16" fill="#3d3d3d"/><rect x="682.3" y="270" width="12.2" height="16" fill="#3c3c3c"/><rect x="668.3" y="295" width="12.2" height="4" fill="#5e5e5e"/><rect x="682.3" y="295" width="12.2" height="4" fill="#4b4b4b"/><rect x="696.3" y="295" width="12.2" height="4" fill="#555555"/><rect x="710.3" y="295" width="12" height="4" fill="#535353"/><rect x="668.3" y="308" width="12.2" height="6" fill="#404040"/><rect x="682.3" y="308" width="12.2" height="6" fill="#404040"/><rect x="696.3" y="308" width="12.2" height="6" fill="#404040"/><rect x="710.3" y="308" width="12" height="6" fill="#3d3d3d"/><rect x="668.3" y="341" width="12.2" height="3" fill="#656565"/><rect x="682.3" y="341" width="12.2" height="3" fill="#5e5e5e"/><rect x="696.3" y="341" width="12.2" height="3" fill="#4b4b4b"/><rect x="668.3" y="347" width="12.2" height="12" fill="#3d3d3d"/><rect x="682.3" y="347" width="12.2" height="12" fill="#3d3d3d"/><rect x="696.3" y="347" width="12.2" height="12" fill="#3d3d3d"/><rect x="710.3" y="347" width="12" height="12" fill="#3b3b3b"/><rect x="668.3" y="360" width="12.2" height="3" fill="#4b4b4b"/><rect x="682.3" y="360" width="12.2" height="3" fill="#4b4b4b"/><rect x="696.3" y="360" width="12.2" height="3" fill="#4b4b4b"/><rect x="710.3" y="360" width="12" height="3" fill="#454545"/><rect x="668.3" y="365" width="12.2" height="35" fill="#4e4e4e"/><rect x="682.3" y="365" width="12.2" height="35" fill="#404040"/><rect x="696.3" y="365" width="12.2" height="35" fill="#454545"/><rect x="710.3" y="365" width="12" height="35" fill="#424242"/><rect x="682.3" y="387" width="12.2" height="13" fill="#484848"/><rect x="668.3" y="406" width="12.2" height="26" fill="#4e4e4e"/><rect x="682.3" y="406" width="12.2" height="26" fill="#454545"/><rect x="696.3" y="406" width="12.2" height="26" fill="#4b4b4b"/><rect x="710.3" y="406" width="12" height="26" fill="#484848"/><rect x="710.3" y="429" width="12" height="2" fill="#535353"/><rect x="668.3" y="440" width="12.2" height="9" fill="#515151"/><rect x="682.3" y="440" width="12.2" height="9" fill="#535353"/><rect x="696.3" y="440" width="12.2" height="9" fill="#454545"/><rect x="710.3" y="440" width="12" height="9" fill="#454545"/><rect x="668.3" y="452" width="12.2" height="21" fill="#535353"/><rect x="682.3" y="452" width="12.2" height="21" fill="#454545"/><rect x="696.3" y="452" width="12.2" height="21" fill="#515151"/><rect x="710.3" y="452" width="12" height="21" fill="#484848"/><rect x="668.3" y="484" width="12.2" height="5" fill="#5a5a5a"/><rect x="668.3" y="497" width="12.2" height="20" fill="#6c6c6c"/><rect x="668.3" y="500" width="12.2" height="10" fill="#8c8c8c"/><rect x="682.3" y="498" width="12.2" height="14" fill="#717171"/><rect x="696.3" y="498" width="12.2" height="12" fill="#656565"/><rect x="710.3" y="498" width="12" height="10" fill="#656565"/><rect x="668.3" y="537" width="12.2" height="38" fill="#444444"/><rect x="682.3" y="537" width="12.2" height="38" fill="#424242"/><rect x="696.3" y="537" width="12.2" height="38" fill="#444444"/><rect x="710.3" y="537" width="12" height="38" fill="#424242"/><rect x="651.5" y="590" width="17" height="2" fill="#535353"/><rect x="722.5" y="590" width="11" height="2" fill="#535353"/><rect x="768.5" y="80" width="177" height="640" fill="#363636"/><rect x="768.5" y="80" width="177" height="26" fill="#383838"/><rect x="768.5" y="114" width="177" height="22" fill="#3b3b3b"/><rect x="768.5" y="137" width="177" height="37" fill="#383838"/><rect x="768.5" y="175" width="177" height="31" fill="#353535"/><rect x="768.5" y="207" width="177" height="3" fill="#393939"/><rect x="768.5" y="213" width="177" height="2" fill="#323232"/><rect x="768.5" y="235" width="177" height="1" fill="#2d2d2d"/><rect x="768.5" y="236" width="177" height="1" fill="#656565"/><rect x="768.5" y="244" width="177" height="1" fill="#323232"/><rect x="768.5" y="262" width="177" height="1" fill="#404040"/><rect x="768.5" y="264" width="177" height="2" fill="#393939"/><rect x="768.5" y="270" width="177" height="16" fill="#353535"/><rect x="768.5" y="287" width="177" height="2" fill="#393939"/><rect x="768.5" y="290" width="177" height="2" fill="#343434"/><rect x="768.5" y="305" width="177" height="1" fill="#404040"/><rect x="768.5" y="315" width="177" height="3" fill="#393939"/><rect x="768.5" y="319" width="177" height="3" fill="#323232"/><rect x="768.5" y="324" width="177" height="6" fill="#3d3d3d"/><rect x="768.5" y="331" width="177" height="2" fill="#3b3b3b"/><rect x="768.5" y="337" width="177" height="3" fill="#343434"/><rect x="768.5" y="347" width="177" height="12" fill="#363636"/><rect x="768.5" y="365" width="177" height="8" fill="#363636"/><rect x="768.5" y="374" width="177" height="10" fill="#383838"/><rect x="768.5" y="594" width="177" height="4" fill="#424242"/><rect x="768.5" y="601" width="177" height="1" fill="#454545"/><rect x="768.5" y="610" width="177" height="20" fill="#4e4e4e"/><rect x="768.5" y="632" width="177" height="3" fill="#454545"/><rect x="768.5" y="636" width="177" height="3" fill="#515151"/><rect x="768.5" y="640" width="177" height="2" fill="#515151"/><rect x="768.5" y="643" width="177" height="6" fill="#4f4f4f"/><rect x="768.5" y="650" width="177" height="3" fill="#4c4c4c"/><rect x="768.5" y="655" width="177" height="7" fill="#515151"/><rect x="768.5" y="662" width="177" height="1" fill="#3b3b3b"/><rect x="768.5" y="670" width="177" height="3" fill="#404040"/><rect x="768.5" y="675" width="177" height="2" fill="#414141"/><rect x="768.5" y="678" width="177" height="2" fill="#424242"/><rect x="768.5" y="130" width="80" height="1" fill="#515151"/><rect x="848.5" y="130" width="97" height="1" fill="#424242"/><rect x="768.5" y="127" width="177" height="1" fill="#3d3d3d"/><rect x="768.5" y="210" width="177" height="3" fill="#393939"/><rect x="768.5" y="219" width="177" height="7" fill="#767676"/><rect x="768.5" y="227" width="177" height="8" fill="#6b6b6b"/><rect x="768.5" y="238" width="177" height="2" fill="#656565"/><rect x="768.5" y="241" width="177" height="2" fill="#616161"/><rect x="768.5" y="245" width="177" height="7" fill="#737373"/><rect x="798.5" y="245" width="70" height="7" fill="#7c7c7c"/><rect x="768.5" y="253" width="177" height="5" fill="#3a3a3a"/><rect x="768.5" y="295" width="177" height="4" fill="#393939"/><rect x="768.5" y="308" width="177" height="6" fill="#3b3b3b"/><rect x="768.5" y="360" width="177" height="3" fill="#393939"/><rect x="768.5" y="341" width="177" height="3" fill="#393939"/><rect x="768.5" y="433" width="177" height="6" fill="#383838"/><rect x="768.5" y="532" width="177" height="1" fill="#393939"/><rect x="768.5" y="604" width="177" height="3" fill="#424242"/><rect x="768.5" y="665" width="177" height="3" fill="#424242"/><rect x="768.5" y="683" width="177" height="4" fill="#424242"/><rect x="880.3" y="80" width="12.2" height="32" fill="#424242"/><rect x="894.3" y="80" width="12.2" height="32" fill="#414141"/><rect x="908.3" y="80" width="12.2" height="32" fill="#424242"/><rect x="922.3" y="80" width="12" height="32" fill="#3b3b3b"/><rect x="880.3" y="114" width="12.2" height="22" fill="#404040"/><rect x="894.3" y="114" width="12.2" height="22" fill="#404040"/><rect x="908.3" y="114" width="12.2" height="22" fill="#3d3d3d"/><rect x="880.3" y="137" width="12.2" height="37" fill="#404040"/><rect x="894.3" y="137" width="12.2" height="37" fill="#3d3d3d"/><rect x="908.3" y="137" width="12.2" height="37" fill="#3e3e3e"/><rect x="922.3" y="137" width="12" height="37" fill="#3d3d3d"/><rect x="880.3" y="146" width="12.2" height="14" fill="#4b4b4b"/><rect x="908.3" y="175" width="12.2" height="7" fill="#5a5a5a"/><rect x="922.3" y="175" width="12" height="7" fill="#535353"/><rect x="908.3" y="182" width="12.2" height="24" fill="#454545"/><rect x="922.3" y="182" width="12" height="24" fill="#404040"/><rect x="880.3" y="175" width="12.2" height="11" fill="#3d3d3d"/><rect x="894.3" y="175" width="12.2" height="11" fill="#3c3c3c"/><rect x="880.3" y="186" width="12.2" height="6" fill="#484848"/><rect x="894.3" y="186" width="12.2" height="6" fill="#3d3d3d"/><rect x="880.3" y="192" width="12.2" height="7" fill="#555555"/><rect x="880.3" y="199" width="12.2" height="7" fill="#656565"/><rect x="894.3" y="194" width="12.2" height="6" fill="#4e4e4e"/><rect x="894.3" y="200" width="12.2" height="6" fill="#5e5e5e"/><rect x="922.3" y="207" width="12" height="3" fill="#5a5a5a"/><rect x="880.3" y="219" width="12.2" height="7" fill="#8c8c8c"/><rect x="894.3" y="219" width="12.2" height="7" fill="#a3a3a3"/><rect x="908.3" y="219" width="12.2" height="7" fill="#a8a8a8"/><rect x="922.3" y="219" width="12" height="7" fill="#989898"/><rect x="880.3" y="227" width="12.2" height="8" fill="#737373"/><rect x="894.3" y="227" width="12.2" height="8" fill="#737373"/><rect x="908.3" y="227" width="12.2" height="8" fill="#737373"/><rect x="922.3" y="227" width="12" height="8" fill="#737373"/><rect x="880.3" y="253" width="12.2" height="5" fill="#454545"/><rect x="894.3" y="253" width="12.2" height="5" fill="#454545"/><rect x="908.3" y="253" width="12.2" height="5" fill="#454545"/><rect x="922.3" y="253" width="12" height="5" fill="#424242"/><rect x="880.3" y="270" width="12.2" height="16" fill="#3d3d3d"/><rect x="894.3" y="270" width="12.2" height="16" fill="#3c3c3c"/><rect x="880.3" y="295" width="12.2" height="4" fill="#5e5e5e"/><rect x="894.3" y="295" width="12.2" height="4" fill="#4b4b4b"/><rect x="908.3" y="295" width="12.2" height="4" fill="#555555"/><rect x="922.3" y="295" width="12" height="4" fill="#535353"/><rect x="880.3" y="308" width="12.2" height="6" fill="#404040"/><rect x="894.3" y="308" width="12.2" height="6" fill="#404040"/><rect x="908.3" y="308" width="12.2" height="6" fill="#404040"/><rect x="922.3" y="308" width="12" height="6" fill="#3d3d3d"/><rect x="880.3" y="341" width="12.2" height="3" fill="#656565"/><rect x="894.3" y="341" width="12.2" height="3" fill="#5e5e5e"/><rect x="908.3" y="341" width="12.2" height="3" fill="#4b4b4b"/><rect x="880.3" y="347" width="12.2" height="12" fill="#3d3d3d"/><rect x="894.3" y="347" width="12.2" height="12" fill="#3d3d3d"/><rect x="908.3" y="347" width="12.2" height="12" fill="#3d3d3d"/><rect x="922.3" y="347" width="12" height="12" fill="#3b3b3b"/><rect x="880.3" y="360" width="12.2" height="3" fill="#4b4b4b"/><rect x="894.3" y="360" width="12.2" height="3" fill="#4b4b4b"/><rect x="908.3" y="360" width="12.2" height="3" fill="#4b4b4b"/><rect x="922.3" y="360" width="12" height="3" fill="#454545"/><rect x="880.3" y="365" width="12.2" height="35" fill="#4e4e4e"/><rect x="894.3" y="365" width="12.2" height="35" fill="#404040"/><rect x="908.3" y="365" width="12.2" height="35" fill="#454545"/><rect x="922.3" y="365" width="12" height="35" fill="#424242"/><rect x="894.3" y="387" width="12.2" height="13" fill="#5a5a5a"/><rect x="880.3" y="406" width="12.2" height="26" fill="#4e4e4e"/><rect x="894.3" y="406" width="12.2" height="26" fill="#454545"/><rect x="908.3" y="406" width="12.2" height="26" fill="#4b4b4b"/><rect x="922.3" y="406" width="12" height="26" fill="#484848"/><rect x="922.3" y="429" width="12" height="2" fill="#535353"/><rect x="880.3" y="440" width="12.2" height="9" fill="#515151"/><rect x="894.3" y="440" width="12.2" height="9" fill="#535353"/><rect x="908.3" y="440" width="12.2" height="9" fill="#454545"/><rect x="922.3" y="440" width="12" height="9" fill="#454545"/><rect x="880.3" y="452" width="12.2" height="21" fill="#535353"/><rect x="894.3" y="452" width="12.2" height="21" fill="#454545"/><rect x="908.3" y="452" width="12.2" height="21" fill="#515151"/><rect x="922.3" y="452" width="12" height="21" fill="#484848"/><rect x="880.3" y="484" width="12.2" height="5" fill="#5a5a5a"/><rect x="880.3" y="497" width="12.2" height="20" fill="#6c6c6c"/><rect x="880.3" y="500" width="12.2" height="10" fill="#888888"/><rect x="894.3" y="498" width="12.2" height="14" fill="#717171"/><rect x="908.3" y="498" width="12.2" height="12" fill="#656565"/><rect x="922.3" y="498" width="12" height="10" fill="#656565"/><rect x="880.3" y="537" width="12.2" height="38" fill="#444444"/><rect x="894.3" y="537" width="12.2" height="38" fill="#424242"/><rect x="908.3" y="537" width="12.2" height="38" fill="#444444"/><rect x="922.3" y="537" width="12" height="38" fill="#424242"/><rect x="863.5" y="590" width="17" height="2" fill="#535353"/><rect x="934.5" y="590" width="11" height="2" fill="#535353"/></g>
<g filter="url(#jl)"><rect x="131.5" y="210" width="177" height="3" fill="#4a4a4a"/><rect x="131.5" y="106" width="113" height="5" fill="#525252"/><rect x="131.5" y="341" width="177" height="3" fill="#666666"/><rect x="131.5" y="433" width="177" height="6" fill="#5b5b5b"/><rect x="131.5" y="532" width="177" height="1" fill="#656565"/><rect x="131.5" y="604" width="177" height="3" fill="#5a5a5a"/><rect x="131.5" y="665" width="177" height="3" fill="#535353"/><rect x="344.5" y="210" width="176" height="3" fill="#474747"/><rect x="344.5" y="106" width="113" height="5" fill="#4f4f4f"/><rect x="344.5" y="341" width="176" height="3" fill="#5e5e5e"/><rect x="344.5" y="433" width="176" height="6" fill="#595959"/><rect x="344.5" y="532" width="176" height="1" fill="#656565"/><rect x="344.5" y="604" width="176" height="3" fill="#5a5a5a"/><rect x="344.5" y="665" width="176" height="3" fill="#535353"/><rect x="243.3" y="207" width="12.2" height="3" fill="#6e6e6e"/><rect x="257.3" y="207" width="12.2" height="3" fill="#757575"/><rect x="271.3" y="207" width="12.2" height="3" fill="#717171"/><rect x="285.3" y="207" width="12" height="3" fill="#6a6a6a"/><rect x="243.3" y="429" width="12.2" height="2" fill="#757575"/><rect x="257.3" y="429" width="12.2" height="2" fill="#7a7a7a"/><rect x="271.3" y="429" width="12.2" height="2" fill="#656565"/><rect x="257.3" y="506" width="12.2" height="2" fill="#757575"/><rect x="271.3" y="506" width="12.2" height="2" fill="#717171"/><rect x="256.5" y="532" width="40" height="1" fill="#8c8c8c"/><rect x="243.3" y="578" width="12.2" height="2" fill="#919191"/><rect x="271.3" y="578" width="12.2" height="2" fill="#8c8c8c"/><rect x="285.3" y="578" width="12" height="2" fill="#7a7a7a"/><rect x="264.5" y="578" width="5" height="2" fill="#757575"/><rect x="243.3" y="590" width="12.2" height="2" fill="#c8c8c8"/><rect x="257.3" y="590" width="12.2" height="2" fill="#c8c8c8"/><rect x="271.3" y="590" width="12.2" height="2" fill="#cdcdcd"/><rect x="285.3" y="590" width="12" height="2" fill="#c6c6c6"/><rect x="243.3" y="592" width="12.2" height="2" fill="#989898"/><rect x="257.3" y="592" width="12.2" height="2" fill="#989898"/><rect x="271.3" y="592" width="12.2" height="2" fill="#989898"/><rect x="285.3" y="592" width="12" height="2" fill="#989898"/><rect x="243.3" y="670" width="12.2" height="3" fill="#818181"/><rect x="257.3" y="670" width="12.2" height="3" fill="#717171"/><rect x="243.3" y="675" width="12.2" height="2" fill="#888888"/><rect x="257.3" y="675" width="12.2" height="2" fill="#5e5e5e"/><rect x="456.3" y="207" width="12.2" height="3" fill="#989898"/><rect x="470.3" y="207" width="12.2" height="3" fill="#989898"/><rect x="484.3" y="207" width="12.2" height="3" fill="#919191"/><rect x="498.3" y="207" width="12" height="3" fill="#6c6c6c"/><rect x="469.5" y="532" width="40" height="1" fill="#8c8c8c"/><rect x="456.3" y="578" width="12.2" height="2" fill="#a3a3a3"/><rect x="470.3" y="578" width="12.2" height="2" fill="#a3a3a3"/><rect x="484.3" y="578" width="12.2" height="2" fill="#a3a3a3"/><rect x="498.3" y="578" width="12" height="2" fill="#9f9f9f"/><rect x="491.5" y="586" width="5" height="2" fill="#656565"/><rect x="498.3" y="586" width="12" height="2" fill="#656565"/><rect x="456.3" y="590" width="12.2" height="2" fill="#d1d1d1"/><rect x="470.3" y="590" width="12.2" height="2" fill="#bfbfbf"/><rect x="484.3" y="590" width="12.2" height="2" fill="#b6b6b6"/><rect x="498.3" y="590" width="12" height="2" fill="#aaaaaa"/><rect x="456.3" y="592" width="12.2" height="2" fill="#9f9f9f"/><rect x="470.3" y="592" width="12.2" height="2" fill="#9f9f9f"/><rect x="484.3" y="592" width="12.2" height="2" fill="#9f9f9f"/><rect x="498.3" y="592" width="12" height="2" fill="#9f9f9f"/><rect x="456.3" y="670" width="12.2" height="3" fill="#989898"/><rect x="470.3" y="670" width="12.2" height="3" fill="#8c8c8c"/><rect x="484.3" y="670" width="12.2" height="3" fill="#757575"/><rect x="498.3" y="670" width="12" height="3" fill="#5e5e5e"/><rect x="456.3" y="675" width="12.2" height="5" fill="#989898"/><rect x="470.3" y="675" width="12.2" height="5" fill="#7a7a7a"/><rect x="484.3" y="675" width="12.2" height="5" fill="#6c6c6c"/><rect x="668.3" y="207" width="12.2" height="3" fill="#838383"/><rect x="682.3" y="207" width="12.2" height="3" fill="#7a7a7a"/><rect x="696.3" y="207" width="12.2" height="3" fill="#717171"/><rect x="710.3" y="207" width="12" height="3" fill="#656565"/><rect x="668.3" y="429" width="12.2" height="2" fill="#6c6c6c"/><rect x="682.3" y="429" width="12.2" height="2" fill="#656565"/><rect x="696.3" y="429" width="12.2" height="2" fill="#5e5e5e"/><rect x="710.3" y="506" width="12" height="2" fill="#7a7a7a"/><rect x="681.5" y="532" width="40" height="1" fill="#888888"/><rect x="668.3" y="578" width="12.2" height="2" fill="#9a9a9a"/><rect x="682.3" y="578" width="12.2" height="2" fill="#818181"/><rect x="696.3" y="578" width="12.2" height="2" fill="#9a9a9a"/><rect x="710.3" y="578" width="12" height="2" fill="#8c8c8c"/><rect x="668.3" y="590" width="12.2" height="2" fill="#c6c6c6"/><rect x="682.3" y="590" width="12.2" height="2" fill="#c6c6c6"/><rect x="696.3" y="590" width="12.2" height="2" fill="#c6c6c6"/><rect x="710.3" y="590" width="12" height="2" fill="#c6c6c6"/><rect x="668.3" y="592" width="12.2" height="2" fill="#989898"/><rect x="682.3" y="592" width="12.2" height="2" fill="#989898"/><rect x="696.3" y="592" width="12.2" height="2" fill="#989898"/><rect x="710.3" y="592" width="12" height="2" fill="#989898"/><rect x="668.3" y="670" width="12.2" height="3" fill="#8c8c8c"/><rect x="682.3" y="670" width="12.2" height="3" fill="#7a7a7a"/><rect x="696.3" y="670" width="12.2" height="3" fill="#5e5e5e"/><rect x="668.3" y="675" width="12.2" height="5" fill="#8c8c8c"/><rect x="682.3" y="675" width="12.2" height="5" fill="#6c6c6c"/><rect x="696.3" y="675" width="12.2" height="5" fill="#5e5e5e"/><rect x="880.3" y="207" width="12.2" height="3" fill="#7a7a7a"/><rect x="894.3" y="207" width="12.2" height="3" fill="#818181"/><rect x="908.3" y="207" width="12.2" height="3" fill="#717171"/><rect x="880.3" y="429" width="12.2" height="2" fill="#6c6c6c"/><rect x="894.3" y="429" width="12.2" height="2" fill="#656565"/><rect x="908.3" y="429" width="12.2" height="2" fill="#5e5e5e"/><rect x="922.3" y="506" width="12" height="2" fill="#7a7a7a"/><rect x="893.5" y="532" width="40" height="1" fill="#888888"/><rect x="880.3" y="578" width="12.2" height="2" fill="#9a9a9a"/><rect x="894.3" y="578" width="12.2" height="2" fill="#818181"/><rect x="908.3" y="578" width="12.2" height="2" fill="#9a9a9a"/><rect x="922.3" y="578" width="12" height="2" fill="#8c8c8c"/><rect x="880.3" y="590" width="12.2" height="2" fill="#c6c6c6"/><rect x="894.3" y="590" width="12.2" height="2" fill="#c6c6c6"/><rect x="908.3" y="590" width="12.2" height="2" fill="#c6c6c6"/><rect x="922.3" y="590" width="12" height="2" fill="#c6c6c6"/><rect x="880.3" y="592" width="12.2" height="2" fill="#989898"/><rect x="894.3" y="592" width="12.2" height="2" fill="#989898"/><rect x="908.3" y="592" width="12.2" height="2" fill="#989898"/><rect x="922.3" y="592" width="12" height="2" fill="#989898"/><rect x="880.3" y="670" width="12.2" height="3" fill="#8c8c8c"/><rect x="894.3" y="670" width="12.2" height="3" fill="#7a7a7a"/><rect x="908.3" y="670" width="12.2" height="3" fill="#5e5e5e"/><rect x="880.3" y="675" width="12.2" height="5" fill="#8c8c8c"/><rect x="894.3" y="675" width="12.2" height="5" fill="#6c6c6c"/><rect x="908.3" y="675" width="12.2" height="5" fill="#5e5e5e"/></g>
<g shape-rendering="auto"><rect x="131.5" y="113" width="177" height="1" fill="#000"/><rect x="131.5" y="206" width="177" height="1" fill="#000"/><rect x="131.5" y="226" width="177" height="1" fill="#000"/><rect x="131.5" y="267" width="177" height="1" fill="#000"/><rect x="131.5" y="293" width="177" height="2" fill="#000"/><rect x="131.5" y="299" width="177" height="1" fill="#000"/><rect x="131.5" y="302" width="177" height="1" fill="#000"/><rect x="131.5" y="306" width="177" height="1" fill="#000"/><rect x="131.5" y="318" width="177" height="1" fill="#000"/><rect x="131.5" y="323" width="177" height="1" fill="#000"/><rect x="131.5" y="336" width="177" height="1" fill="#000"/><rect x="131.5" y="340" width="177" height="1" fill="#000"/><rect x="131.5" y="359" width="177" height="1" fill="#000"/><rect x="131.5" y="373" width="177" height="1" fill="#000"/><rect x="131.5" y="400" width="177" height="1" fill="#000"/><rect x="131.5" y="432" width="177" height="1" fill="#000"/><rect x="131.5" y="451" width="177" height="1" fill="#000"/><rect x="131.5" y="473" width="177" height="1" fill="#000"/><rect x="131.5" y="496" width="177" height="1" fill="#000"/><rect x="131.5" y="518" width="177" height="2" fill="#000"/><rect x="131.5" y="559" width="177" height="1" fill="#000"/><rect x="131.5" y="575" width="177" height="3" fill="#000"/><rect x="131.5" y="580" width="177" height="1" fill="#000"/><rect x="131.5" y="583" width="177" height="1" fill="#000"/><rect x="131.5" y="599" width="177" height="2" fill="#000"/><rect x="131.5" y="602" width="177" height="1" fill="#000"/><rect x="131.5" y="635" width="177" height="1" fill="#000"/><rect x="131.5" y="649" width="177" height="1" fill="#000"/><rect x="131.5" y="653" width="177" height="2" fill="#000"/><rect x="131.5" y="674" width="177" height="1" fill="#000"/><rect x="131.5" y="677" width="177" height="1" fill="#000"/><rect x="131.5" y="681" width="177" height="2" fill="#000"/><rect x="131.5" y="136" width="177" height="1" fill="#fff"/><rect x="131.5" y="174" width="177" height="1" fill="#fff"/><rect x="131.5" y="215" width="177" height="4" fill="#fff"/><rect x="131.5" y="237" width="177" height="1" fill="#fff"/><rect x="131.5" y="240" width="177" height="1" fill="#fff"/><rect x="131.5" y="243" width="177" height="1" fill="#fff"/><rect x="131.5" y="252" width="177" height="1" fill="#fff"/><rect x="131.5" y="258" width="177" height="4" fill="#fff"/><rect x="131.5" y="263" width="177" height="1" fill="#fff"/><rect x="131.5" y="269" width="177" height="1" fill="#fff"/><rect x="131.5" y="286" width="177" height="1" fill="#fff"/><rect x="131.5" y="289" width="177" height="1" fill="#fff"/><rect x="131.5" y="300" width="177" height="2" fill="#fff"/><rect x="131.5" y="304" width="177" height="1" fill="#fff"/><rect x="131.5" y="307" width="177" height="1" fill="#fff"/><rect x="131.5" y="314" width="177" height="1" fill="#fff"/><rect x="131.5" y="330" width="177" height="1" fill="#fff"/><rect x="131.5" y="333" width="177" height="3" fill="#fff"/><rect x="131.5" y="344" width="177" height="3" fill="#fff"/><rect x="131.5" y="363" width="177" height="2" fill="#fff"/><rect x="131.5" y="384" width="177" height="1" fill="#fff"/><rect x="131.5" y="386" width="177" height="1" fill="#fff"/><rect x="131.5" y="405" width="177" height="1" fill="#fff"/><rect x="131.5" y="439" width="177" height="1" fill="#fff"/><rect x="131.5" y="449" width="177" height="1" fill="#fff"/><rect x="131.5" y="478" width="177" height="1" fill="#fff"/><rect x="131.5" y="489" width="177" height="2" fill="#fff"/><rect x="131.5" y="492" width="177" height="1" fill="#fff"/><rect x="131.5" y="495" width="177" height="1" fill="#fff"/><rect x="131.5" y="522" width="177" height="1" fill="#fff"/><rect x="131.5" y="529" width="177" height="1" fill="#fff"/><rect x="131.5" y="531" width="177" height="1" fill="#fff"/><rect x="131.5" y="533" width="177" height="3" fill="#fff"/><rect x="131.5" y="544" width="177" height="1" fill="#fff"/><rect x="131.5" y="557" width="177" height="1" fill="#fff"/><rect x="131.5" y="563" width="177" height="1" fill="#fff"/><rect x="131.5" y="598" width="177" height="1" fill="#fff"/><rect x="131.5" y="603" width="177" height="1" fill="#fff"/><rect x="131.5" y="607" width="177" height="3" fill="#fff"/><rect x="131.5" y="630" width="177" height="2" fill="#fff"/><rect x="131.5" y="639" width="177" height="1" fill="#fff"/><rect x="131.5" y="642" width="177" height="1" fill="#fff"/><rect x="131.5" y="664" width="177" height="1" fill="#fff"/><rect x="131.5" y="668" width="177" height="2" fill="#fff"/><rect x="131.5" y="673" width="177" height="1" fill="#fff"/><rect x="131.5" y="680" width="177" height="1" fill="#fff"/><rect x="131.5" y="687" width="177" height="33" fill="#fff"/><rect x="344.5" y="113" width="176" height="1" fill="#000"/><rect x="344.5" y="206" width="176" height="1" fill="#000"/><rect x="344.5" y="226" width="176" height="1" fill="#000"/><rect x="344.5" y="267" width="176" height="1" fill="#000"/><rect x="344.5" y="293" width="176" height="2" fill="#000"/><rect x="344.5" y="299" width="176" height="1" fill="#000"/><rect x="344.5" y="302" width="176" height="1" fill="#000"/><rect x="344.5" y="306" width="176" height="1" fill="#000"/><rect x="344.5" y="318" width="176" height="1" fill="#000"/><rect x="344.5" y="323" width="176" height="1" fill="#000"/><rect x="344.5" y="336" width="176" height="1" fill="#000"/><rect x="344.5" y="340" width="176" height="1" fill="#000"/><rect x="344.5" y="359" width="176" height="1" fill="#000"/><rect x="344.5" y="373" width="176" height="1" fill="#000"/><rect x="344.5" y="400" width="176" height="1" fill="#000"/><rect x="344.5" y="432" width="176" height="1" fill="#000"/><rect x="344.5" y="451" width="176" height="1" fill="#000"/><rect x="344.5" y="473" width="176" height="1" fill="#000"/><rect x="344.5" y="496" width="176" height="1" fill="#000"/><rect x="344.5" y="518" width="176" height="2" fill="#000"/><rect x="344.5" y="559" width="176" height="1" fill="#000"/><rect x="344.5" y="575" width="176" height="3" fill="#000"/><rect x="344.5" y="580" width="176" height="1" fill="#000"/><rect x="344.5" y="583" width="176" height="1" fill="#000"/><rect x="344.5" y="599" width="176" height="2" fill="#000"/><rect x="344.5" y="602" width="176" height="1" fill="#000"/><rect x="344.5" y="635" width="176" height="1" fill="#000"/><rect x="344.5" y="649" width="176" height="1" fill="#000"/><rect x="344.5" y="653" width="176" height="2" fill="#000"/><rect x="344.5" y="674" width="176" height="1" fill="#000"/><rect x="344.5" y="677" width="176" height="1" fill="#000"/><rect x="344.5" y="681" width="176" height="2" fill="#000"/><rect x="344.5" y="136" width="176" height="1" fill="#fff"/><rect x="344.5" y="174" width="176" height="1" fill="#fff"/><rect x="344.5" y="215" width="176" height="4" fill="#fff"/><rect x="344.5" y="237" width="176" height="1" fill="#fff"/><rect x="344.5" y="240" width="176" height="1" fill="#fff"/><rect x="344.5" y="243" width="176" height="1" fill="#fff"/><rect x="344.5" y="252" width="176" height="1" fill="#fff"/><rect x="344.5" y="258" width="176" height="4" fill="#fff"/><rect x="344.5" y="263" width="176" height="1" fill="#fff"/><rect x="344.5" y="269" width="176" height="1" fill="#fff"/><rect x="344.5" y="286" width="176" height="1" fill="#fff"/><rect x="344.5" y="289" width="176" height="1" fill="#fff"/><rect x="344.5" y="300" width="176" height="2" fill="#fff"/><rect x="344.5" y="304" width="176" height="1" fill="#fff"/><rect x="344.5" y="307" width="176" height="1" fill="#fff"/><rect x="344.5" y="314" width="176" height="1" fill="#fff"/><rect x="344.5" y="330" width="176" height="1" fill="#fff"/><rect x="344.5" y="333" width="176" height="3" fill="#fff"/><rect x="344.5" y="344" width="176" height="3" fill="#fff"/><rect x="344.5" y="363" width="176" height="2" fill="#fff"/><rect x="344.5" y="384" width="176" height="1" fill="#fff"/><rect x="344.5" y="386" width="176" height="1" fill="#fff"/><rect x="344.5" y="405" width="176" height="1" fill="#fff"/><rect x="344.5" y="439" width="176" height="1" fill="#fff"/><rect x="344.5" y="449" width="176" height="1" fill="#fff"/><rect x="344.5" y="478" width="176" height="1" fill="#fff"/><rect x="344.5" y="489" width="176" height="2" fill="#fff"/><rect x="344.5" y="492" width="176" height="1" fill="#fff"/><rect x="344.5" y="495" width="176" height="1" fill="#fff"/><rect x="344.5" y="522" width="176" height="1" fill="#fff"/><rect x="344.5" y="529" width="176" height="1" fill="#fff"/><rect x="344.5" y="531" width="176" height="1" fill="#fff"/><rect x="344.5" y="533" width="176" height="3" fill="#fff"/><rect x="344.5" y="544" width="176" height="1" fill="#fff"/><rect x="344.5" y="557" width="176" height="1" fill="#fff"/><rect x="344.5" y="563" width="176" height="1" fill="#fff"/><rect x="344.5" y="598" width="176" height="1" fill="#fff"/><rect x="344.5" y="603" width="176" height="1" fill="#fff"/><rect x="344.5" y="607" width="176" height="3" fill="#fff"/><rect x="344.5" y="630" width="176" height="2" fill="#fff"/><rect x="344.5" y="639" width="176" height="1" fill="#fff"/><rect x="344.5" y="642" width="176" height="1" fill="#fff"/><rect x="344.5" y="664" width="176" height="1" fill="#fff"/><rect x="344.5" y="668" width="176" height="2" fill="#fff"/><rect x="344.5" y="673" width="176" height="1" fill="#fff"/><rect x="344.5" y="680" width="176" height="1" fill="#fff"/><rect x="344.5" y="687" width="176" height="33" fill="#fff"/><rect x="556.5" y="113" width="177" height="1" fill="#000"/><rect x="556.5" y="206" width="177" height="1" fill="#000"/><rect x="556.5" y="226" width="177" height="1" fill="#000"/><rect x="556.5" y="267" width="177" height="1" fill="#000"/><rect x="556.5" y="293" width="177" height="2" fill="#000"/><rect x="556.5" y="299" width="177" height="1" fill="#000"/><rect x="556.5" y="302" width="177" height="1" fill="#000"/><rect x="556.5" y="306" width="177" height="1" fill="#000"/><rect x="556.5" y="318" width="177" height="1" fill="#000"/><rect x="556.5" y="323" width="177" height="1" fill="#000"/><rect x="556.5" y="336" width="177" height="1" fill="#000"/><rect x="556.5" y="340" width="177" height="1" fill="#000"/><rect x="556.5" y="359" width="177" height="1" fill="#000"/><rect x="556.5" y="373" width="177" height="1" fill="#000"/><rect x="556.5" y="400" width="177" height="1" fill="#000"/><rect x="556.5" y="432" width="177" height="1" fill="#000"/><rect x="556.5" y="451" width="177" height="1" fill="#000"/><rect x="556.5" y="473" width="177" height="1" fill="#000"/><rect x="556.5" y="496" width="177" height="1" fill="#000"/><rect x="556.5" y="518" width="177" height="2" fill="#000"/><rect x="556.5" y="559" width="177" height="1" fill="#000"/><rect x="556.5" y="575" width="177" height="3" fill="#000"/><rect x="556.5" y="580" width="177" height="1" fill="#000"/><rect x="556.5" y="583" width="177" height="1" fill="#000"/><rect x="556.5" y="599" width="177" height="2" fill="#000"/><rect x="556.5" y="602" width="177" height="1" fill="#000"/><rect x="556.5" y="635" width="177" height="1" fill="#000"/><rect x="556.5" y="649" width="177" height="1" fill="#000"/><rect x="556.5" y="653" width="177" height="2" fill="#000"/><rect x="556.5" y="674" width="177" height="1" fill="#000"/><rect x="556.5" y="677" width="177" height="1" fill="#000"/><rect x="556.5" y="681" width="177" height="2" fill="#000"/><rect x="556.5" y="136" width="177" height="1" fill="#fff"/><rect x="556.5" y="174" width="177" height="1" fill="#fff"/><rect x="556.5" y="215" width="177" height="4" fill="#fff"/><rect x="556.5" y="237" width="177" height="1" fill="#fff"/><rect x="556.5" y="240" width="177" height="1" fill="#fff"/><rect x="556.5" y="243" width="177" height="1" fill="#fff"/><rect x="556.5" y="252" width="177" height="1" fill="#fff"/><rect x="556.5" y="258" width="177" height="4" fill="#fff"/><rect x="556.5" y="263" width="177" height="1" fill="#fff"/><rect x="556.5" y="269" width="177" height="1" fill="#fff"/><rect x="556.5" y="286" width="177" height="1" fill="#fff"/><rect x="556.5" y="289" width="177" height="1" fill="#fff"/><rect x="556.5" y="300" width="177" height="2" fill="#fff"/><rect x="556.5" y="304" width="177" height="1" fill="#fff"/><rect x="556.5" y="307" width="177" height="1" fill="#fff"/><rect x="556.5" y="314" width="177" height="1" fill="#fff"/><rect x="556.5" y="330" width="177" height="1" fill="#fff"/><rect x="556.5" y="333" width="177" height="3" fill="#fff"/><rect x="556.5" y="344" width="177" height="3" fill="#fff"/><rect x="556.5" y="363" width="177" height="2" fill="#fff"/><rect x="556.5" y="384" width="177" height="1" fill="#fff"/><rect x="556.5" y="386" width="177" height="1" fill="#fff"/><rect x="556.5" y="405" width="177" height="1" fill="#fff"/><rect x="556.5" y="439" width="177" height="1" fill="#fff"/><rect x="556.5" y="449" width="177" height="1" fill="#fff"/><rect x="556.5" y="478" width="177" height="1" fill="#fff"/><rect x="556.5" y="489" width="177" height="2" fill="#fff"/><rect x="556.5" y="492" width="177" height="1" fill="#fff"/><rect x="556.5" y="495" width="177" height="1" fill="#fff"/><rect x="556.5" y="522" width="177" height="1" fill="#fff"/><rect x="556.5" y="529" width="177" height="1" fill="#fff"/><rect x="556.5" y="531" width="177" height="1" fill="#fff"/><rect x="556.5" y="533" width="177" height="3" fill="#fff"/><rect x="556.5" y="544" width="177" height="1" fill="#fff"/><rect x="556.5" y="557" width="177" height="1" fill="#fff"/><rect x="556.5" y="563" width="177" height="1" fill="#fff"/><rect x="556.5" y="598" width="177" height="1" fill="#fff"/><rect x="556.5" y="603" width="177" height="1" fill="#fff"/><rect x="556.5" y="607" width="177" height="3" fill="#fff"/><rect x="556.5" y="630" width="177" height="2" fill="#fff"/><rect x="556.5" y="639" width="177" height="1" fill="#fff"/><rect x="556.5" y="642" width="177" height="1" fill="#fff"/><rect x="556.5" y="664" width="177" height="1" fill="#fff"/><rect x="556.5" y="668" width="177" height="2" fill="#fff"/><rect x="556.5" y="673" width="177" height="1" fill="#fff"/><rect x="556.5" y="680" width="177" height="1" fill="#fff"/><rect x="556.5" y="687" width="177" height="33" fill="#fff"/><rect x="768.5" y="113" width="177" height="1" fill="#000"/><rect x="768.5" y="206" width="177" height="1" fill="#000"/><rect x="768.5" y="226" width="177" height="1" fill="#000"/><rect x="768.5" y="267" width="177" height="1" fill="#000"/><rect x="768.5" y="293" width="177" height="2" fill="#000"/><rect x="768.5" y="299" width="177" height="1" fill="#000"/><rect x="768.5" y="302" width="177" height="1" fill="#000"/><rect x="768.5" y="306" width="177" height="1" fill="#000"/><rect x="768.5" y="318" width="177" height="1" fill="#000"/><rect x="768.5" y="323" width="177" height="1" fill="#000"/><rect x="768.5" y="336" width="177" height="1" fill="#000"/><rect x="768.5" y="340" width="177" height="1" fill="#000"/><rect x="768.5" y="359" width="177" height="1" fill="#000"/><rect x="768.5" y="373" width="177" height="1" fill="#000"/><rect x="768.5" y="400" width="177" height="1" fill="#000"/><rect x="768.5" y="432" width="177" height="1" fill="#000"/><rect x="768.5" y="451" width="177" height="1" fill="#000"/><rect x="768.5" y="473" width="177" height="1" fill="#000"/><rect x="768.5" y="496" width="177" height="1" fill="#000"/><rect x="768.5" y="518" width="177" height="2" fill="#000"/><rect x="768.5" y="559" width="177" height="1" fill="#000"/><rect x="768.5" y="575" width="177" height="3" fill="#000"/><rect x="768.5" y="580" width="177" height="1" fill="#000"/><rect x="768.5" y="583" width="177" height="1" fill="#000"/><rect x="768.5" y="599" width="177" height="2" fill="#000"/><rect x="768.5" y="602" width="177" height="1" fill="#000"/><rect x="768.5" y="635" width="177" height="1" fill="#000"/><rect x="768.5" y="649" width="177" height="1" fill="#000"/><rect x="768.5" y="653" width="177" height="2" fill="#000"/><rect x="768.5" y="674" width="177" height="1" fill="#000"/><rect x="768.5" y="677" width="177" height="1" fill="#000"/><rect x="768.5" y="681" width="177" height="2" fill="#000"/><rect x="768.5" y="136" width="177" height="1" fill="#fff"/><rect x="768.5" y="174" width="177" height="1" fill="#fff"/><rect x="768.5" y="215" width="177" height="4" fill="#fff"/><rect x="768.5" y="237" width="177" height="1" fill="#fff"/><rect x="768.5" y="240" width="177" height="1" fill="#fff"/><rect x="768.5" y="243" width="177" height="1" fill="#fff"/><rect x="768.5" y="252" width="177" height="1" fill="#fff"/><rect x="768.5" y="258" width="177" height="4" fill="#fff"/><rect x="768.5" y="263" width="177" height="1" fill="#fff"/><rect x="768.5" y="269" width="177" height="1" fill="#fff"/><rect x="768.5" y="286" width="177" height="1" fill="#fff"/><rect x="768.5" y="289" width="177" height="1" fill="#fff"/><rect x="768.5" y="300" width="177" height="2" fill="#fff"/><rect x="768.5" y="304" width="177" height="1" fill="#fff"/><rect x="768.5" y="307" width="177" height="1" fill="#fff"/><rect x="768.5" y="314" width="177" height="1" fill="#fff"/><rect x="768.5" y="330" width="177" height="1" fill="#fff"/><rect x="768.5" y="333" width="177" height="3" fill="#fff"/><rect x="768.5" y="344" width="177" height="3" fill="#fff"/><rect x="768.5" y="363" width="177" height="2" fill="#fff"/><rect x="768.5" y="384" width="177" height="1" fill="#fff"/><rect x="768.5" y="386" width="177" height="1" fill="#fff"/><rect x="768.5" y="405" width="177" height="1" fill="#fff"/><rect x="768.5" y="439" width="177" height="1" fill="#fff"/><rect x="768.5" y="449" width="177" height="1" fill="#fff"/><rect x="768.5" y="478" width="177" height="1" fill="#fff"/><rect x="768.5" y="489" width="177" height="2" fill="#fff"/><rect x="768.5" y="492" width="177" height="1" fill="#fff"/><rect x="768.5" y="495" width="177" height="1" fill="#fff"/><rect x="768.5" y="522" width="177" height="1" fill="#fff"/><rect x="768.5" y="529" width="177" height="1" fill="#fff"/><rect x="768.5" y="531" width="177" height="1" fill="#fff"/><rect x="768.5" y="533" width="177" height="3" fill="#fff"/><rect x="768.5" y="544" width="177" height="1" fill="#fff"/><rect x="768.5" y="557" width="177" height="1" fill="#fff"/><rect x="768.5" y="563" width="177" height="1" fill="#fff"/><rect x="768.5" y="598" width="177" height="1" fill="#fff"/><rect x="768.5" y="603" width="177" height="1" fill="#fff"/><rect x="768.5" y="607" width="177" height="3" fill="#fff"/><rect x="768.5" y="630" width="177" height="2" fill="#fff"/><rect x="768.5" y="639" width="177" height="1" fill="#fff"/><rect x="768.5" y="642" width="177" height="1" fill="#fff"/><rect x="768.5" y="664" width="177" height="1" fill="#fff"/><rect x="768.5" y="668" width="177" height="2" fill="#fff"/><rect x="768.5" y="673" width="177" height="1" fill="#fff"/><rect x="768.5" y="680" width="177" height="1" fill="#fff"/><rect x="768.5" y="687" width="177" height="33" fill="#fff"/></g>
<g fill="#000"><rect x="131.5" y="80.5" width="177" height="640" fill="none" stroke="#000" stroke-width="1"/><text x="131.5" y="736" text-anchor="middle" class="tk">320</text><rect x="173" y="714.3" width="1" height="6.2"/><rect x="173" y="80.5" width="1" height="6.2"/><text x="173.5" y="736" text-anchor="middle" class="tk">335</text><rect x="214" y="714.3" width="1" height="6.2"/><rect x="214" y="80.5" width="1" height="6.2"/><text x="214.5" y="736" text-anchor="middle" class="tk">350</text><rect x="256" y="714.3" width="1" height="6.2"/><rect x="256" y="80.5" width="1" height="6.2"/><text x="256.5" y="736" text-anchor="middle" class="tk">365</text><rect x="297" y="714.3" width="1" height="6.2"/><rect x="297" y="80.5" width="1" height="6.2"/><text x="297.5" y="736" text-anchor="middle" class="tk">380</text><text x="126.7" y="724" text-anchor="end" class="tk">0</text><rect x="131.5" y="587" width="6.2" height="1"/><rect x="302.3" y="587" width="6.2" height="1"/><text x="126.7" y="590" text-anchor="end" class="tk">5</text><rect x="131.5" y="453" width="6.2" height="1"/><rect x="302.3" y="453" width="6.2" height="1"/><text x="126.7" y="457" text-anchor="end" class="tk">10</text><rect x="131.5" y="320" width="6.2" height="1"/><rect x="302.3" y="320" width="6.2" height="1"/><text x="126.7" y="324" text-anchor="end" class="tk">15</text><rect x="131.5" y="187" width="6.2" height="1"/><rect x="302.3" y="187" width="6.2" height="1"/><text x="126.7" y="190" text-anchor="end" class="tk">20</text><text x="220.20" y="72.8" text-anchor="middle" class="tt">XX, V7*V9=EA03*EA07</text><rect x="344.5" y="80.5" width="176" height="640" fill="none" stroke="#000" stroke-width="1"/><text x="344.5" y="736" text-anchor="middle" class="tk">320</text><rect x="385" y="714.3" width="1" height="6.2"/><rect x="385" y="80.5" width="1" height="6.2"/><text x="385.5" y="736" text-anchor="middle" class="tk">335</text><rect x="426" y="714.3" width="1" height="6.2"/><rect x="426" y="80.5" width="1" height="6.2"/><text x="426.5" y="736" text-anchor="middle" class="tk">350</text><rect x="468" y="714.3" width="1" height="6.2"/><rect x="468" y="80.5" width="1" height="6.2"/><text x="468.5" y="736" text-anchor="middle" class="tk">365</text><rect x="509" y="714.3" width="1" height="6.2"/><rect x="509" y="80.5" width="1" height="6.2"/><text x="509.5" y="736" text-anchor="middle" class="tk">380</text><text x="339.7" y="724" text-anchor="end" class="tk">0</text><rect x="344.5" y="587" width="6.2" height="1"/><rect x="514.3" y="587" width="6.2" height="1"/><text x="339.7" y="590" text-anchor="end" class="tk">5</text><rect x="344.5" y="453" width="6.2" height="1"/><rect x="514.3" y="453" width="6.2" height="1"/><text x="339.7" y="457" text-anchor="end" class="tk">10</text><rect x="344.5" y="320" width="6.2" height="1"/><rect x="514.3" y="320" width="6.2" height="1"/><text x="339.7" y="324" text-anchor="end" class="tk">15</text><rect x="344.5" y="187" width="6.2" height="1"/><rect x="514.3" y="187" width="6.2" height="1"/><text x="339.7" y="190" text-anchor="end" class="tk">20</text><text x="432.48" y="72.8" text-anchor="middle" class="tt">YY, V7*V9=EA03*EA07</text><rect x="556.5" y="80.5" width="177" height="640" fill="none" stroke="#000" stroke-width="1"/><text x="556.5" y="736" text-anchor="middle" class="tk">320</text><rect x="597" y="714.3" width="1" height="6.2"/><rect x="597" y="80.5" width="1" height="6.2"/><text x="597.5" y="736" text-anchor="middle" class="tk">335</text><rect x="639" y="714.3" width="1" height="6.2"/><rect x="639" y="80.5" width="1" height="6.2"/><text x="639.5" y="736" text-anchor="middle" class="tk">350</text><rect x="680" y="714.3" width="1" height="6.2"/><rect x="680" y="80.5" width="1" height="6.2"/><text x="680.5" y="736" text-anchor="middle" class="tk">365</text><rect x="722" y="714.3" width="1" height="6.2"/><rect x="722" y="80.5" width="1" height="6.2"/><text x="722.5" y="736" text-anchor="middle" class="tk">380</text><text x="551.7" y="724" text-anchor="end" class="tk">0</text><rect x="556.5" y="587" width="6.2" height="1"/><rect x="727.3" y="587" width="6.2" height="1"/><text x="551.7" y="590" text-anchor="end" class="tk">5</text><rect x="556.5" y="453" width="6.2" height="1"/><rect x="727.3" y="453" width="6.2" height="1"/><text x="551.7" y="457" text-anchor="end" class="tk">10</text><rect x="556.5" y="320" width="6.2" height="1"/><rect x="727.3" y="320" width="6.2" height="1"/><text x="551.7" y="324" text-anchor="end" class="tk">15</text><rect x="556.5" y="187" width="6.2" height="1"/><rect x="727.3" y="187" width="6.2" height="1"/><text x="551.7" y="190" text-anchor="end" class="tk">20</text><text x="644.75" y="72.8" text-anchor="middle" class="tt">XY, V7*V9=EA03*EA07</text><rect x="768.5" y="80.5" width="177" height="640" fill="none" stroke="#000" stroke-width="1"/><text x="768.5" y="736" text-anchor="middle" class="tk">320</text><rect x="810" y="714.3" width="1" height="6.2"/><rect x="810" y="80.5" width="1" height="6.2"/><text x="810.5" y="736" text-anchor="middle" class="tk">335</text><rect x="851" y="714.3" width="1" height="6.2"/><rect x="851" y="80.5" width="1" height="6.2"/><text x="851.5" y="736" text-anchor="middle" class="tk">350</text><rect x="893" y="714.3" width="1" height="6.2"/><rect x="893" y="80.5" width="1" height="6.2"/><text x="893.5" y="736" text-anchor="middle" class="tk">365</text><rect x="934" y="714.3" width="1" height="6.2"/><rect x="934" y="80.5" width="1" height="6.2"/><text x="934.5" y="736" text-anchor="middle" class="tk">380</text><text x="763.7" y="724" text-anchor="end" class="tk">0</text><rect x="768.5" y="587" width="6.2" height="1"/><rect x="939.3" y="587" width="6.2" height="1"/><text x="763.7" y="590" text-anchor="end" class="tk">5</text><rect x="768.5" y="453" width="6.2" height="1"/><rect x="939.3" y="453" width="6.2" height="1"/><text x="763.7" y="457" text-anchor="end" class="tk">10</text><rect x="768.5" y="320" width="6.2" height="1"/><rect x="939.3" y="320" width="6.2" height="1"/><text x="763.7" y="324" text-anchor="end" class="tk">15</text><rect x="768.5" y="187" width="6.2" height="1"/><rect x="939.3" y="187" width="6.2" height="1"/><text x="763.7" y="190" text-anchor="end" class="tk">20</text><text x="857.05" y="72.8" text-anchor="middle" class="tt">YX, V7*V9=EA03*EA07</text></g>
<g fill="#000"><rect x="1019.5" y="160.5" width="15" height="480" fill="url(#cb)" stroke="#000" stroke-width="1"/><text x="1013.4" y="163.4" text-anchor="end" class="ct">1</text><rect x="1019.5" y="256" width="6.2" height="1"/><rect x="1028.3" y="256" width="6.2" height="1"/><text x="1013.4" y="259.4" text-anchor="end" class="ct">0</text><rect x="1019.5" y="352" width="6.2" height="1"/><rect x="1028.3" y="352" width="6.2" height="1"/><text x="1013.4" y="355.4" text-anchor="end" class="ct">−1</text><rect x="1019.5" y="448" width="6.2" height="1"/><rect x="1028.3" y="448" width="6.2" height="1"/><text x="1013.4" y="451.4" text-anchor="end" class="ct">−2</text><rect x="1019.5" y="544" width="6.2" height="1"/><rect x="1028.3" y="544" width="6.2" height="1"/><text x="1013.4" y="547.4" text-anchor="end" class="ct">−3</text><text x="1013.4" y="643.4" text-anchor="end" class="ct">−4</text><rect x="1022" y="160.5" width="1" height="6.2"/><rect x="1022" y="634.3" width="1" height="6.2"/><rect x="1025" y="160.5" width="1" height="6.2"/><rect x="1025" y="634.3" width="1" height="6.2"/><rect x="1028" y="160.5" width="1" height="6.2"/><rect x="1028" y="634.3" width="1" height="6.2"/><rect x="1031" y="160.5" width="1" height="6.2"/><rect x="1031" y="634.3" width="1" height="6.2"/><text x="1019.5" y="647.2" text-anchor="middle" style="font-size:0.9px">0.0</text><text x="1022.5" y="647.2" text-anchor="middle" style="font-size:0.9px">0.2</text><text x="1025.5" y="647.2" text-anchor="middle" style="font-size:0.9px">0.4</text><text x="1028.5" y="647.2" text-anchor="middle" style="font-size:0.9px">0.6</text><text x="1031.5" y="647.2" text-anchor="middle" style="font-size:0.9px">0.8</text><text x="1034.5" y="647.2" text-anchor="middle" style="font-size:0.9px">1.0</text></g>
<text x="589.5" y="26" text-anchor="middle" class="lb">2019-09-08 0.0-24.0</text>
<text x="483.5" y="754.5" text-anchor="middle" class="lb">frequency (MHz)</text>
<text transform="translate(100.7,400) rotate(-90)" text-anchor="middle" class="lb">UT (hours)</text>
<text transform="translate(985,400) rotate(-90)" text-anchor="middle" class="lb">log<tspan dy="3" style="font-size:8.7px">10</tspan><tspan dy="-3"> amplitude</tspan></text>
</svg>
</body></html>
